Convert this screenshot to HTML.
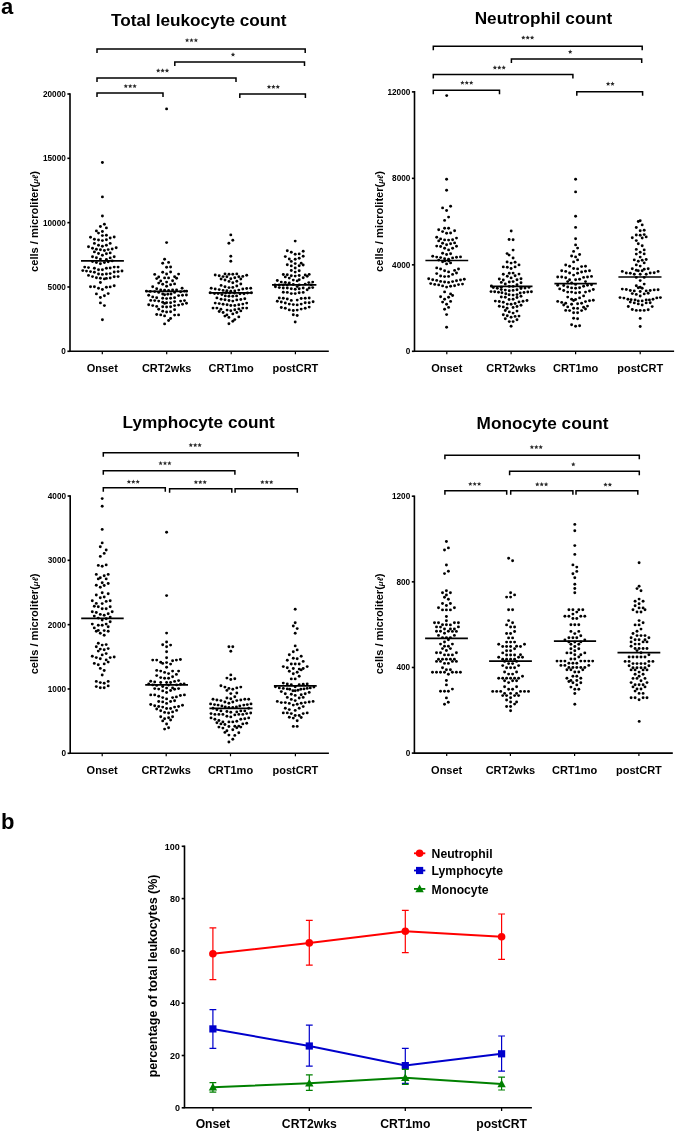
<!DOCTYPE html>
<html><head><meta charset="utf-8"><style>
html,body{margin:0;padding:0;background:#fff;}
svg{display:block;will-change:transform;}
text{font-family:"Liberation Sans", sans-serif;}
</style></head><body>
<svg width="675" height="1132" viewBox="0 0 675 1132">
<rect width="675" height="1132" fill="#fff"/>
<text x="198.80" y="26.30" font-size="17.2" text-anchor="middle" font-weight="bold" >Total leukocyte count</text>
<path d="M70.00,94.00 L70.00,351.30 L328.00,351.30" stroke="#000" stroke-width="1.6" fill="none" stroke-linecap="square"/>
<line x1="67.40" y1="351.30" x2="70.00" y2="351.30" stroke="#000" stroke-width="1.6"/>
<text x="65.80" y="354.20" font-size="8.2" text-anchor="end" font-weight="bold" >0</text>
<line x1="67.40" y1="286.98" x2="70.00" y2="286.98" stroke="#000" stroke-width="1.6"/>
<text x="65.80" y="289.88" font-size="8.2" text-anchor="end" font-weight="bold" >5000</text>
<line x1="67.40" y1="222.65" x2="70.00" y2="222.65" stroke="#000" stroke-width="1.6"/>
<text x="65.80" y="225.55" font-size="8.2" text-anchor="end" font-weight="bold" >10000</text>
<line x1="67.40" y1="158.32" x2="70.00" y2="158.32" stroke="#000" stroke-width="1.6"/>
<text x="65.80" y="161.22" font-size="8.2" text-anchor="end" font-weight="bold" >15000</text>
<line x1="67.40" y1="94.00" x2="70.00" y2="94.00" stroke="#000" stroke-width="1.6"/>
<text x="65.80" y="96.90" font-size="8.2" text-anchor="end" font-weight="bold" >20000</text>
<line x1="102.30" y1="351.30" x2="102.30" y2="354.30" stroke="#000" stroke-width="1.2"/>
<text x="102.30" y="371.90" font-size="11" text-anchor="middle" font-weight="bold" >Onset</text>
<line x1="166.70" y1="351.30" x2="166.70" y2="354.30" stroke="#000" stroke-width="1.2"/>
<text x="166.70" y="371.90" font-size="11" text-anchor="middle" font-weight="bold" >CRT2wks</text>
<line x1="231.20" y1="351.30" x2="231.20" y2="354.30" stroke="#000" stroke-width="1.2"/>
<text x="231.20" y="371.90" font-size="11" text-anchor="middle" font-weight="bold" >CRT1mo</text>
<line x1="295.40" y1="351.30" x2="295.40" y2="354.30" stroke="#000" stroke-width="1.2"/>
<text x="295.40" y="371.90" font-size="11" text-anchor="middle" font-weight="bold" >postCRT</text>
<text transform="translate(38.10,271.90) rotate(-90)" x="0" y="0" font-size="11.1" text-anchor="start" font-weight="bold">cells / microliter(<tspan font-style="italic" font-size="8">μℓ</tspan>)</text>
<path d="M97.00,52.95 L97.00,48.95 L305.20,48.95 L305.20,52.95" stroke="#000" stroke-width="1.5" fill="none" />
<polygon points="187.10,38.00 187.72,39.45 189.29,39.59 188.10,40.62 188.45,42.16 187.10,41.35 185.75,42.16 186.10,40.62 184.91,39.59 186.48,39.45" fill="#2a2a2a"/>
<polygon points="191.50,38.00 192.12,39.45 193.69,39.59 192.50,40.62 192.85,42.16 191.50,41.35 190.15,42.16 190.50,40.62 189.31,39.59 190.88,39.45" fill="#2a2a2a"/>
<polygon points="195.90,38.00 196.52,39.45 198.09,39.59 196.90,40.62 197.25,42.16 195.90,41.35 194.55,42.16 194.90,40.62 193.71,39.59 195.28,39.45" fill="#2a2a2a"/>
<path d="M174.80,65.95 L174.80,61.95 L304.50,61.95 L304.50,65.95" stroke="#000" stroke-width="1.5" fill="none" />
<polygon points="233.00,52.30 233.62,53.75 235.19,53.89 234.00,54.92 234.35,56.46 233.00,55.65 231.65,56.46 232.00,54.92 230.81,53.89 232.38,53.75" fill="#2a2a2a"/>
<path d="M97.00,81.95 L97.00,77.95 L236.00,77.95 L236.00,81.95" stroke="#000" stroke-width="1.5" fill="none" />
<polygon points="158.20,68.30 158.82,69.75 160.39,69.89 159.20,70.92 159.55,72.46 158.20,71.65 156.85,72.46 157.20,70.92 156.01,69.89 157.58,69.75" fill="#2a2a2a"/>
<polygon points="162.60,68.30 163.22,69.75 164.79,69.89 163.60,70.92 163.95,72.46 162.60,71.65 161.25,72.46 161.60,70.92 160.41,69.89 161.98,69.75" fill="#2a2a2a"/>
<polygon points="167.00,68.30 167.62,69.75 169.19,69.89 168.00,70.92 168.35,72.46 167.00,71.65 165.65,72.46 166.00,70.92 164.81,69.89 166.38,69.75" fill="#2a2a2a"/>
<path d="M97.00,97.05 L97.00,93.05 L163.00,93.05 L163.00,97.05" stroke="#000" stroke-width="1.5" fill="none" />
<polygon points="125.80,83.90 126.42,85.35 127.99,85.49 126.80,86.52 127.15,88.06 125.80,87.25 124.45,88.06 124.80,86.52 123.61,85.49 125.18,85.35" fill="#2a2a2a"/>
<polygon points="130.20,83.90 130.82,85.35 132.39,85.49 131.20,86.52 131.55,88.06 130.20,87.25 128.85,88.06 129.20,86.52 128.01,85.49 129.58,85.35" fill="#2a2a2a"/>
<polygon points="134.60,83.90 135.22,85.35 136.79,85.49 135.60,86.52 135.95,88.06 134.60,87.25 133.25,88.06 133.60,86.52 132.41,85.49 133.98,85.35" fill="#2a2a2a"/>
<path d="M239.80,97.95 L239.80,93.95 L305.40,93.95 L305.40,97.95" stroke="#000" stroke-width="1.5" fill="none" />
<polygon points="269.00,84.60 269.62,86.05 271.19,86.19 270.00,87.22 270.35,88.76 269.00,87.95 267.65,88.76 268.00,87.22 266.81,86.19 268.38,86.05" fill="#2a2a2a"/>
<polygon points="273.40,84.60 274.02,86.05 275.59,86.19 274.40,87.22 274.75,88.76 273.40,87.95 272.05,88.76 272.40,87.22 271.21,86.19 272.78,86.05" fill="#2a2a2a"/>
<polygon points="277.80,84.60 278.42,86.05 279.99,86.19 278.80,87.22 279.15,88.76 277.80,87.95 276.45,88.76 276.80,87.22 275.61,86.19 277.18,86.05" fill="#2a2a2a"/>
<line x1="81.00" y1="260.80" x2="123.90" y2="260.80" stroke="#000" stroke-width="1.7"/>
<line x1="145.50" y1="291.30" x2="187.90" y2="291.30" stroke="#000" stroke-width="1.7"/>
<line x1="208.90" y1="292.90" x2="252.40" y2="292.90" stroke="#000" stroke-width="1.7"/>
<line x1="272.00" y1="284.90" x2="316.40" y2="284.90" stroke="#000" stroke-width="1.7"/>
<text x="543.40" y="24.20" font-size="17.2" text-anchor="middle" font-weight="bold" >Neutrophil count</text>
<path d="M414.50,91.90 L414.50,351.30 L673.30,351.30" stroke="#000" stroke-width="1.6" fill="none" stroke-linecap="square"/>
<line x1="411.90" y1="351.30" x2="414.50" y2="351.30" stroke="#000" stroke-width="1.6"/>
<text x="410.30" y="354.20" font-size="8.2" text-anchor="end" font-weight="bold" >0</text>
<line x1="411.90" y1="264.83" x2="414.50" y2="264.83" stroke="#000" stroke-width="1.6"/>
<text x="410.30" y="267.73" font-size="8.2" text-anchor="end" font-weight="bold" >4000</text>
<line x1="411.90" y1="178.36" x2="414.50" y2="178.36" stroke="#000" stroke-width="1.6"/>
<text x="410.30" y="181.26" font-size="8.2" text-anchor="end" font-weight="bold" >8000</text>
<line x1="411.90" y1="91.89" x2="414.50" y2="91.89" stroke="#000" stroke-width="1.6"/>
<text x="410.30" y="94.79" font-size="8.2" text-anchor="end" font-weight="bold" >12000</text>
<line x1="446.80" y1="351.30" x2="446.80" y2="354.30" stroke="#000" stroke-width="1.2"/>
<text x="446.80" y="371.90" font-size="11" text-anchor="middle" font-weight="bold" >Onset</text>
<line x1="511.10" y1="351.30" x2="511.10" y2="354.30" stroke="#000" stroke-width="1.2"/>
<text x="511.10" y="371.90" font-size="11" text-anchor="middle" font-weight="bold" >CRT2wks</text>
<line x1="575.60" y1="351.30" x2="575.60" y2="354.30" stroke="#000" stroke-width="1.2"/>
<text x="575.60" y="371.90" font-size="11" text-anchor="middle" font-weight="bold" >CRT1mo</text>
<line x1="640.20" y1="351.30" x2="640.20" y2="354.30" stroke="#000" stroke-width="1.2"/>
<text x="640.20" y="371.90" font-size="11" text-anchor="middle" font-weight="bold" >postCRT</text>
<text transform="translate(382.60,271.90) rotate(-90)" x="0" y="0" font-size="11.1" text-anchor="start" font-weight="bold">cells / microliter(<tspan font-style="italic" font-size="8">μℓ</tspan>)</text>
<path d="M433.30,50.15 L433.30,46.15 L642.20,46.15 L642.20,50.15" stroke="#000" stroke-width="1.5" fill="none" />
<polygon points="523.30,35.40 523.92,36.85 525.49,36.99 524.30,38.02 524.65,39.56 523.30,38.75 521.95,39.56 522.30,38.02 521.11,36.99 522.68,36.85" fill="#2a2a2a"/>
<polygon points="527.70,35.40 528.32,36.85 529.89,36.99 528.70,38.02 529.05,39.56 527.70,38.75 526.35,39.56 526.70,38.02 525.51,36.99 527.08,36.85" fill="#2a2a2a"/>
<polygon points="532.10,35.40 532.72,36.85 534.29,36.99 533.10,38.02 533.45,39.56 532.10,38.75 530.75,39.56 531.10,38.02 529.91,36.99 531.48,36.85" fill="#2a2a2a"/>
<path d="M511.40,62.95 L511.40,58.95 L641.70,58.95 L641.70,62.95" stroke="#000" stroke-width="1.5" fill="none" />
<polygon points="570.20,49.60 570.82,51.05 572.39,51.19 571.20,52.22 571.55,53.76 570.20,52.95 568.85,53.76 569.20,52.22 568.01,51.19 569.58,51.05" fill="#2a2a2a"/>
<path d="M433.30,78.55 L433.30,74.55 L572.90,74.55 L572.90,78.55" stroke="#000" stroke-width="1.5" fill="none" />
<polygon points="494.90,65.30 495.52,66.75 497.09,66.89 495.90,67.92 496.25,69.46 494.90,68.65 493.55,69.46 493.90,67.92 492.71,66.89 494.28,66.75" fill="#2a2a2a"/>
<polygon points="499.30,65.30 499.92,66.75 501.49,66.89 500.30,67.92 500.65,69.46 499.30,68.65 497.95,69.46 498.30,67.92 497.11,66.89 498.68,66.75" fill="#2a2a2a"/>
<polygon points="503.70,65.30 504.32,66.75 505.89,66.89 504.70,67.92 505.05,69.46 503.70,68.65 502.35,69.46 502.70,67.92 501.51,66.89 503.08,66.75" fill="#2a2a2a"/>
<path d="M433.30,94.35 L433.30,90.35 L499.50,90.35 L499.50,94.35" stroke="#000" stroke-width="1.5" fill="none" />
<polygon points="462.40,80.50 463.02,81.95 464.59,82.09 463.40,83.12 463.75,84.66 462.40,83.85 461.05,84.66 461.40,83.12 460.21,82.09 461.78,81.95" fill="#2a2a2a"/>
<polygon points="466.80,80.50 467.42,81.95 468.99,82.09 467.80,83.12 468.15,84.66 466.80,83.85 465.45,84.66 465.80,83.12 464.61,82.09 466.18,81.95" fill="#2a2a2a"/>
<polygon points="471.20,80.50 471.82,81.95 473.39,82.09 472.20,83.12 472.55,84.66 471.20,83.85 469.85,84.66 470.20,83.12 469.01,82.09 470.58,81.95" fill="#2a2a2a"/>
<path d="M576.80,95.85 L576.80,91.85 L642.60,91.85 L642.60,95.85" stroke="#000" stroke-width="1.5" fill="none" />
<polygon points="608.10,81.60 608.72,83.05 610.29,83.19 609.10,84.22 609.45,85.76 608.10,84.95 606.75,85.76 607.10,84.22 605.91,83.19 607.48,83.05" fill="#2a2a2a"/>
<polygon points="612.50,81.60 613.12,83.05 614.69,83.19 613.50,84.22 613.85,85.76 612.50,84.95 611.15,85.76 611.50,84.22 610.31,83.19 611.88,83.05" fill="#2a2a2a"/>
<line x1="425.40" y1="260.50" x2="468.20" y2="260.50" stroke="#000" stroke-width="1.7"/>
<line x1="490.10" y1="286.30" x2="532.50" y2="286.30" stroke="#000" stroke-width="1.7"/>
<line x1="554.40" y1="283.60" x2="596.80" y2="283.60" stroke="#000" stroke-width="1.7"/>
<line x1="618.40" y1="277.00" x2="661.50" y2="277.00" stroke="#000" stroke-width="1.7"/>
<text x="198.60" y="427.90" font-size="17.2" text-anchor="middle" font-weight="bold" >Lymphocyte count</text>
<path d="M70.20,496.00 L70.20,753.30 L328.10,753.30" stroke="#000" stroke-width="1.6" fill="none" stroke-linecap="square"/>
<line x1="67.60" y1="753.30" x2="70.20" y2="753.30" stroke="#000" stroke-width="1.6"/>
<text x="66.00" y="756.20" font-size="8.2" text-anchor="end" font-weight="bold" >0</text>
<line x1="67.60" y1="688.97" x2="70.20" y2="688.97" stroke="#000" stroke-width="1.6"/>
<text x="66.00" y="691.87" font-size="8.2" text-anchor="end" font-weight="bold" >1000</text>
<line x1="67.60" y1="624.65" x2="70.20" y2="624.65" stroke="#000" stroke-width="1.6"/>
<text x="66.00" y="627.55" font-size="8.2" text-anchor="end" font-weight="bold" >2000</text>
<line x1="67.60" y1="560.32" x2="70.20" y2="560.32" stroke="#000" stroke-width="1.6"/>
<text x="66.00" y="563.22" font-size="8.2" text-anchor="end" font-weight="bold" >3000</text>
<line x1="67.60" y1="496.00" x2="70.20" y2="496.00" stroke="#000" stroke-width="1.6"/>
<text x="66.00" y="498.90" font-size="8.2" text-anchor="end" font-weight="bold" >4000</text>
<line x1="102.20" y1="753.30" x2="102.20" y2="756.30" stroke="#000" stroke-width="1.2"/>
<text x="102.20" y="773.90" font-size="11" text-anchor="middle" font-weight="bold" >Onset</text>
<line x1="166.20" y1="753.30" x2="166.20" y2="756.30" stroke="#000" stroke-width="1.2"/>
<text x="166.20" y="773.90" font-size="11" text-anchor="middle" font-weight="bold" >CRT2wks</text>
<line x1="230.50" y1="753.30" x2="230.50" y2="756.30" stroke="#000" stroke-width="1.2"/>
<text x="230.50" y="773.90" font-size="11" text-anchor="middle" font-weight="bold" >CRT1mo</text>
<line x1="295.40" y1="753.30" x2="295.40" y2="756.30" stroke="#000" stroke-width="1.2"/>
<text x="295.40" y="773.90" font-size="11" text-anchor="middle" font-weight="bold" >postCRT</text>
<text transform="translate(38.10,674.30) rotate(-90)" x="0" y="0" font-size="11.1" text-anchor="start" font-weight="bold">cells / microliter(<tspan font-style="italic" font-size="8">μℓ</tspan>)</text>
<path d="M103.30,456.75 L103.30,452.75 L298.20,452.75 L298.20,456.75" stroke="#000" stroke-width="1.5" fill="none" />
<polygon points="190.80,442.80 191.42,444.25 192.99,444.39 191.80,445.42 192.15,446.96 190.80,446.15 189.45,446.96 189.80,445.42 188.61,444.39 190.18,444.25" fill="#2a2a2a"/>
<polygon points="195.20,442.80 195.82,444.25 197.39,444.39 196.20,445.42 196.55,446.96 195.20,446.15 193.85,446.96 194.20,445.42 193.01,444.39 194.58,444.25" fill="#2a2a2a"/>
<polygon points="199.60,442.80 200.22,444.25 201.79,444.39 200.60,445.42 200.95,446.96 199.60,446.15 198.25,446.96 198.60,445.42 197.41,444.39 198.98,444.25" fill="#2a2a2a"/>
<path d="M103.30,474.65 L103.30,470.65 L234.90,470.65 L234.90,474.65" stroke="#000" stroke-width="1.5" fill="none" />
<polygon points="160.60,461.00 161.22,462.45 162.79,462.59 161.60,463.62 161.95,465.16 160.60,464.35 159.25,465.16 159.60,463.62 158.41,462.59 159.98,462.45" fill="#2a2a2a"/>
<polygon points="165.00,461.00 165.62,462.45 167.19,462.59 166.00,463.62 166.35,465.16 165.00,464.35 163.65,465.16 164.00,463.62 162.81,462.59 164.38,462.45" fill="#2a2a2a"/>
<polygon points="169.40,461.00 170.02,462.45 171.59,462.59 170.40,463.62 170.75,465.16 169.40,464.35 168.05,465.16 168.40,463.62 167.21,462.59 168.78,462.45" fill="#2a2a2a"/>
<path d="M103.30,491.85 L103.30,487.85 L165.30,487.85 L165.30,491.85" stroke="#000" stroke-width="1.5" fill="none" />
<polygon points="128.90,479.50 129.52,480.95 131.09,481.09 129.90,482.12 130.25,483.66 128.90,482.85 127.55,483.66 127.90,482.12 126.71,481.09 128.28,480.95" fill="#2a2a2a"/>
<polygon points="133.30,479.50 133.92,480.95 135.49,481.09 134.30,482.12 134.65,483.66 133.30,482.85 131.95,483.66 132.30,482.12 131.11,481.09 132.68,480.95" fill="#2a2a2a"/>
<polygon points="137.70,479.50 138.32,480.95 139.89,481.09 138.70,482.12 139.05,483.66 137.70,482.85 136.35,483.66 136.70,482.12 135.51,481.09 137.08,480.95" fill="#2a2a2a"/>
<path d="M169.60,492.65 L169.60,488.65 L231.80,488.65 L231.80,492.65" stroke="#000" stroke-width="1.5" fill="none" />
<polygon points="195.90,479.90 196.52,481.35 198.09,481.49 196.90,482.52 197.25,484.06 195.90,483.25 194.55,484.06 194.90,482.52 193.71,481.49 195.28,481.35" fill="#2a2a2a"/>
<polygon points="200.30,479.90 200.92,481.35 202.49,481.49 201.30,482.52 201.65,484.06 200.30,483.25 198.95,484.06 199.30,482.52 198.11,481.49 199.68,481.35" fill="#2a2a2a"/>
<polygon points="204.70,479.90 205.32,481.35 206.89,481.49 205.70,482.52 206.05,484.06 204.70,483.25 203.35,484.06 203.70,482.52 202.51,481.49 204.08,481.35" fill="#2a2a2a"/>
<path d="M235.10,492.65 L235.10,488.65 L297.30,488.65 L297.30,492.65" stroke="#000" stroke-width="1.5" fill="none" />
<polygon points="262.40,479.90 263.02,481.35 264.59,481.49 263.40,482.52 263.75,484.06 262.40,483.25 261.05,484.06 261.40,482.52 260.21,481.49 261.78,481.35" fill="#2a2a2a"/>
<polygon points="266.80,479.90 267.42,481.35 268.99,481.49 267.80,482.52 268.15,484.06 266.80,483.25 265.45,484.06 265.80,482.52 264.61,481.49 266.18,481.35" fill="#2a2a2a"/>
<polygon points="271.20,479.90 271.82,481.35 273.39,481.49 272.20,482.52 272.55,484.06 271.20,483.25 269.85,484.06 270.20,482.52 269.01,481.49 270.58,481.35" fill="#2a2a2a"/>
<line x1="81.20" y1="618.30" x2="123.70" y2="618.30" stroke="#000" stroke-width="1.7"/>
<line x1="145.20" y1="684.90" x2="188.00" y2="684.90" stroke="#000" stroke-width="1.7"/>
<line x1="209.40" y1="708.30" x2="252.50" y2="708.30" stroke="#000" stroke-width="1.7"/>
<line x1="273.90" y1="685.90" x2="316.70" y2="685.90" stroke="#000" stroke-width="1.7"/>
<text x="542.50" y="428.70" font-size="17.2" text-anchor="middle" font-weight="bold" >Monocyte count</text>
<path d="M414.40,496.20 L414.40,753.10 L672.00,753.10" stroke="#000" stroke-width="1.6" fill="none" stroke-linecap="square"/>
<line x1="411.80" y1="753.10" x2="414.40" y2="753.10" stroke="#000" stroke-width="1.6"/>
<text x="410.20" y="756.00" font-size="8.2" text-anchor="end" font-weight="bold" >0</text>
<line x1="411.80" y1="667.47" x2="414.40" y2="667.47" stroke="#000" stroke-width="1.6"/>
<text x="410.20" y="670.37" font-size="8.2" text-anchor="end" font-weight="bold" >400</text>
<line x1="411.80" y1="581.84" x2="414.40" y2="581.84" stroke="#000" stroke-width="1.6"/>
<text x="410.20" y="584.74" font-size="8.2" text-anchor="end" font-weight="bold" >800</text>
<line x1="411.80" y1="496.21" x2="414.40" y2="496.21" stroke="#000" stroke-width="1.6"/>
<text x="410.20" y="499.11" font-size="8.2" text-anchor="end" font-weight="bold" >1200</text>
<line x1="446.70" y1="753.10" x2="446.70" y2="756.10" stroke="#000" stroke-width="1.2"/>
<text x="446.70" y="773.70" font-size="11" text-anchor="middle" font-weight="bold" >Onset</text>
<line x1="510.40" y1="753.10" x2="510.40" y2="756.10" stroke="#000" stroke-width="1.2"/>
<text x="510.40" y="773.70" font-size="11" text-anchor="middle" font-weight="bold" >CRT2wks</text>
<line x1="574.60" y1="753.10" x2="574.60" y2="756.10" stroke="#000" stroke-width="1.2"/>
<text x="574.60" y="773.70" font-size="11" text-anchor="middle" font-weight="bold" >CRT1mo</text>
<line x1="638.90" y1="753.10" x2="638.90" y2="756.10" stroke="#000" stroke-width="1.2"/>
<text x="638.90" y="773.70" font-size="11" text-anchor="middle" font-weight="bold" >postCRT</text>
<text transform="translate(382.60,674.30) rotate(-90)" x="0" y="0" font-size="11.1" text-anchor="start" font-weight="bold">cells / microliter(<tspan font-style="italic" font-size="8">μℓ</tspan>)</text>
<path d="M444.90,459.15 L444.90,455.15 L639.30,455.15 L639.30,459.15" stroke="#000" stroke-width="1.5" fill="none" />
<polygon points="531.90,444.80 532.52,446.25 534.09,446.39 532.90,447.42 533.25,448.96 531.90,448.15 530.55,448.96 530.90,447.42 529.71,446.39 531.28,446.25" fill="#2a2a2a"/>
<polygon points="536.30,444.80 536.92,446.25 538.49,446.39 537.30,447.42 537.65,448.96 536.30,448.15 534.95,448.96 535.30,447.42 534.11,446.39 535.68,446.25" fill="#2a2a2a"/>
<polygon points="540.70,444.80 541.32,446.25 542.89,446.39 541.70,447.42 542.05,448.96 540.70,448.15 539.35,448.96 539.70,447.42 538.51,446.39 540.08,446.25" fill="#2a2a2a"/>
<path d="M509.60,475.35 L509.60,471.35 L639.30,471.35 L639.30,475.35" stroke="#000" stroke-width="1.5" fill="none" />
<polygon points="573.30,462.10 573.92,463.55 575.49,463.69 574.30,464.72 574.65,466.26 573.30,465.45 571.95,466.26 572.30,464.72 571.11,463.69 572.68,463.55" fill="#2a2a2a"/>
<path d="M444.90,494.65 L444.90,490.65 L506.70,490.65 L506.70,494.65" stroke="#000" stroke-width="1.5" fill="none" />
<polygon points="470.30,481.70 470.92,483.15 472.49,483.29 471.30,484.32 471.65,485.86 470.30,485.05 468.95,485.86 469.30,484.32 468.11,483.29 469.68,483.15" fill="#2a2a2a"/>
<polygon points="474.70,481.70 475.32,483.15 476.89,483.29 475.70,484.32 476.05,485.86 474.70,485.05 473.35,485.86 473.70,484.32 472.51,483.29 474.08,483.15" fill="#2a2a2a"/>
<polygon points="479.10,481.70 479.72,483.15 481.29,483.29 480.10,484.32 480.45,485.86 479.10,485.05 477.75,485.86 478.10,484.32 476.91,483.29 478.48,483.15" fill="#2a2a2a"/>
<path d="M510.70,494.65 L510.70,490.65 L572.90,490.65 L572.90,494.65" stroke="#000" stroke-width="1.5" fill="none" />
<polygon points="537.30,482.10 537.92,483.55 539.49,483.69 538.30,484.72 538.65,486.26 537.30,485.45 535.95,486.26 536.30,484.72 535.11,483.69 536.68,483.55" fill="#2a2a2a"/>
<polygon points="541.70,482.10 542.32,483.55 543.89,483.69 542.70,484.72 543.05,486.26 541.70,485.45 540.35,486.26 540.70,484.72 539.51,483.69 541.08,483.55" fill="#2a2a2a"/>
<polygon points="546.10,482.10 546.72,483.55 548.29,483.69 547.10,484.72 547.45,486.26 546.10,485.45 544.75,486.26 545.10,484.72 543.91,483.69 545.48,483.55" fill="#2a2a2a"/>
<path d="M576.00,494.65 L576.00,490.65 L637.80,490.65 L637.80,494.65" stroke="#000" stroke-width="1.5" fill="none" />
<polygon points="605.50,482.40 606.12,483.85 607.69,483.99 606.50,485.02 606.85,486.56 605.50,485.75 604.15,486.56 604.50,485.02 603.31,483.99 604.88,483.85" fill="#2a2a2a"/>
<polygon points="609.90,482.40 610.52,483.85 612.09,483.99 610.90,485.02 611.25,486.56 609.90,485.75 608.55,486.56 608.90,485.02 607.71,483.99 609.28,483.85" fill="#2a2a2a"/>
<line x1="425.10" y1="638.40" x2="467.90" y2="638.40" stroke="#000" stroke-width="1.7"/>
<line x1="489.10" y1="661.20" x2="531.90" y2="661.20" stroke="#000" stroke-width="1.7"/>
<line x1="553.90" y1="641.10" x2="596.10" y2="641.10" stroke="#000" stroke-width="1.7"/>
<line x1="617.50" y1="652.60" x2="660.30" y2="652.60" stroke="#000" stroke-width="1.7"/>
<text x="1.00" y="13.70" font-size="22" text-anchor="start" font-weight="bold" >a</text>
<text x="1.00" y="829.20" font-size="22" text-anchor="start" font-weight="bold" >b</text>
<g fill="#000"><circle cx="230.8" cy="234.9" r="1.45"/><circle cx="232.8" cy="240.3" r="1.45"/><circle cx="228.9" cy="243.2" r="1.45"/><circle cx="230.8" cy="256.2" r="1.45"/><circle cx="230.8" cy="261.3" r="1.45"/><circle cx="215.2" cy="275.0" r="1.45"/><circle cx="219.2" cy="275.7" r="1.45"/><circle cx="223.1" cy="276.6" r="1.45"/><circle cx="225.0" cy="273.9" r="1.45"/><circle cx="226.9" cy="276.8" r="1.45"/><circle cx="229.0" cy="274.3" r="1.45"/><circle cx="232.8" cy="274.3" r="1.45"/><circle cx="236.8" cy="273.9" r="1.45"/><circle cx="238.8" cy="276.8" r="1.45"/><circle cx="242.8" cy="276.4" r="1.45"/><circle cx="246.7" cy="275.3" r="1.45"/><circle cx="221.1" cy="279.0" r="1.45"/><circle cx="225.0" cy="280.0" r="1.45"/><circle cx="230.8" cy="278.8" r="1.45"/><circle cx="234.8" cy="277.8" r="1.45"/><circle cx="240.8" cy="279.0" r="1.45"/><circle cx="229.0" cy="281.4" r="1.45"/><circle cx="232.8" cy="282.8" r="1.45"/><circle cx="236.8" cy="281.2" r="1.45"/><circle cx="221.1" cy="285.4" r="1.45"/><circle cx="225.0" cy="286.8" r="1.45"/><circle cx="229.0" cy="287.6" r="1.45"/><circle cx="232.8" cy="287.4" r="1.45"/><circle cx="236.8" cy="286.0" r="1.45"/><circle cx="240.8" cy="284.0" r="1.45"/><circle cx="211.2" cy="288.2" r="1.45"/><circle cx="215.2" cy="289.0" r="1.45"/><circle cx="219.2" cy="289.6" r="1.45"/><circle cx="223.1" cy="290.4" r="1.45"/><circle cx="226.9" cy="290.8" r="1.45"/><circle cx="230.8" cy="291.2" r="1.45"/><circle cx="234.8" cy="290.9" r="1.45"/><circle cx="238.8" cy="290.1" r="1.45"/><circle cx="242.8" cy="289.0" r="1.45"/><circle cx="246.7" cy="288.5" r="1.45"/><circle cx="250.7" cy="288.2" r="1.45"/><circle cx="210.2" cy="292.7" r="1.45"/><circle cx="214.5" cy="293.5" r="1.45"/><circle cx="218.1" cy="293.5" r="1.45"/><circle cx="221.9" cy="294.6" r="1.45"/><circle cx="225.8" cy="292.7" r="1.45"/><circle cx="229.6" cy="293.0" r="1.45"/><circle cx="234.4" cy="293.1" r="1.45"/><circle cx="240.0" cy="293.8" r="1.45"/><circle cx="244.0" cy="293.8" r="1.45"/><circle cx="247.5" cy="293.0" r="1.45"/><circle cx="251.4" cy="292.7" r="1.45"/><circle cx="225.3" cy="295.9" r="1.45"/><circle cx="228.9" cy="296.3" r="1.45"/><circle cx="232.8" cy="296.2" r="1.45"/><circle cx="236.6" cy="295.9" r="1.45"/><circle cx="216.9" cy="297.9" r="1.45"/><circle cx="221.1" cy="299.3" r="1.45"/><circle cx="225.0" cy="299.7" r="1.45"/><circle cx="229.0" cy="300.5" r="1.45"/><circle cx="232.8" cy="301.1" r="1.45"/><circle cx="236.8" cy="299.9" r="1.45"/><circle cx="240.8" cy="299.5" r="1.45"/><circle cx="244.8" cy="298.7" r="1.45"/><circle cx="215.2" cy="303.1" r="1.45"/><circle cx="219.2" cy="303.6" r="1.45"/><circle cx="223.1" cy="304.3" r="1.45"/><circle cx="227.1" cy="304.7" r="1.45"/><circle cx="230.8" cy="305.5" r="1.45"/><circle cx="234.8" cy="305.5" r="1.45"/><circle cx="238.8" cy="304.7" r="1.45"/><circle cx="242.8" cy="304.1" r="1.45"/><circle cx="246.7" cy="303.1" r="1.45"/><circle cx="213.0" cy="308.1" r="1.45"/><circle cx="216.9" cy="308.1" r="1.45"/><circle cx="220.9" cy="309.2" r="1.45"/><circle cx="227.1" cy="310.1" r="1.45"/><circle cx="230.8" cy="310.7" r="1.45"/><circle cx="234.8" cy="309.7" r="1.45"/><circle cx="238.8" cy="308.9" r="1.45"/><circle cx="242.8" cy="308.1" r="1.45"/><circle cx="246.7" cy="308.1" r="1.45"/><circle cx="219.2" cy="311.5" r="1.45"/><circle cx="223.1" cy="312.5" r="1.45"/><circle cx="232.8" cy="313.9" r="1.45"/><circle cx="236.8" cy="312.5" r="1.45"/><circle cx="240.8" cy="310.9" r="1.45"/><circle cx="224.9" cy="316.1" r="1.45"/><circle cx="226.9" cy="314.9" r="1.45"/><circle cx="228.9" cy="317.4" r="1.45"/><circle cx="238.8" cy="316.9" r="1.45"/><circle cx="234.8" cy="319.6" r="1.45"/><circle cx="232.8" cy="321.2" r="1.45"/><circle cx="228.9" cy="323.8" r="1.45"/></g>
<g fill="#000"><circle cx="166.6" cy="108.9" r="1.45"/><circle cx="166.6" cy="242.6" r="1.45"/><circle cx="164.6" cy="259.2" r="1.45"/><circle cx="162.7" cy="263.2" r="1.45"/><circle cx="168.6" cy="262.4" r="1.45"/><circle cx="166.6" cy="267.2" r="1.45"/><circle cx="170.6" cy="267.0" r="1.45"/><circle cx="162.7" cy="272.2" r="1.45"/><circle cx="166.6" cy="274.0" r="1.45"/><circle cx="170.6" cy="272.0" r="1.45"/><circle cx="154.7" cy="274.4" r="1.45"/><circle cx="178.6" cy="274.1" r="1.45"/><circle cx="158.7" cy="277.0" r="1.45"/><circle cx="156.7" cy="278.6" r="1.45"/><circle cx="164.6" cy="277.9" r="1.45"/><circle cx="168.6" cy="277.9" r="1.45"/><circle cx="174.6" cy="276.7" r="1.45"/><circle cx="176.6" cy="278.3" r="1.45"/><circle cx="160.7" cy="281.0" r="1.45"/><circle cx="172.6" cy="280.7" r="1.45"/><circle cx="158.7" cy="283.1" r="1.45"/><circle cx="162.7" cy="284.3" r="1.45"/><circle cx="166.6" cy="282.1" r="1.45"/><circle cx="170.6" cy="284.7" r="1.45"/><circle cx="174.6" cy="283.9" r="1.45"/><circle cx="152.7" cy="286.7" r="1.45"/><circle cx="166.6" cy="286.3" r="1.45"/><circle cx="156.7" cy="288.7" r="1.45"/><circle cx="182.1" cy="288.3" r="1.45"/><circle cx="146.4" cy="291.1" r="1.45"/><circle cx="150.3" cy="291.4" r="1.45"/><circle cx="154.7" cy="291.6" r="1.45"/><circle cx="160.7" cy="289.9" r="1.45"/><circle cx="164.6" cy="290.3" r="1.45"/><circle cx="168.6" cy="290.5" r="1.45"/><circle cx="172.6" cy="289.9" r="1.45"/><circle cx="176.6" cy="289.9" r="1.45"/><circle cx="184.5" cy="291.1" r="1.45"/><circle cx="186.5" cy="291.1" r="1.45"/><circle cx="158.7" cy="292.4" r="1.45"/><circle cx="174.6" cy="292.4" r="1.45"/><circle cx="180.6" cy="291.8" r="1.45"/><circle cx="148.7" cy="295.3" r="1.45"/><circle cx="152.7" cy="296.9" r="1.45"/><circle cx="156.7" cy="297.8" r="1.45"/><circle cx="162.7" cy="294.0" r="1.45"/><circle cx="164.6" cy="294.8" r="1.45"/><circle cx="167.8" cy="294.2" r="1.45"/><circle cx="171.0" cy="294.0" r="1.45"/><circle cx="178.6" cy="295.6" r="1.45"/><circle cx="182.5" cy="295.3" r="1.45"/><circle cx="186.4" cy="295.0" r="1.45"/><circle cx="162.7" cy="298.2" r="1.45"/><circle cx="166.6" cy="298.6" r="1.45"/><circle cx="170.6" cy="298.2" r="1.45"/><circle cx="174.6" cy="297.8" r="1.45"/><circle cx="150.7" cy="300.4" r="1.45"/><circle cx="154.7" cy="300.6" r="1.45"/><circle cx="158.7" cy="301.1" r="1.45"/><circle cx="162.7" cy="302.2" r="1.45"/><circle cx="164.6" cy="303.4" r="1.45"/><circle cx="166.6" cy="302.7" r="1.45"/><circle cx="170.6" cy="302.7" r="1.45"/><circle cx="174.6" cy="301.6" r="1.45"/><circle cx="180.6" cy="301.1" r="1.45"/><circle cx="184.5" cy="300.6" r="1.45"/><circle cx="182.5" cy="304.3" r="1.45"/><circle cx="186.5" cy="303.2" r="1.45"/><circle cx="178.6" cy="305.1" r="1.45"/><circle cx="148.7" cy="304.8" r="1.45"/><circle cx="152.7" cy="305.6" r="1.45"/><circle cx="156.7" cy="306.4" r="1.45"/><circle cx="162.7" cy="306.8" r="1.45"/><circle cx="166.6" cy="307.0" r="1.45"/><circle cx="170.6" cy="306.7" r="1.45"/><circle cx="174.6" cy="305.6" r="1.45"/><circle cx="158.7" cy="309.3" r="1.45"/><circle cx="162.7" cy="311.2" r="1.45"/><circle cx="166.6" cy="312.0" r="1.45"/><circle cx="170.6" cy="311.7" r="1.45"/><circle cx="174.6" cy="309.7" r="1.45"/><circle cx="156.7" cy="314.5" r="1.45"/><circle cx="160.7" cy="314.9" r="1.45"/><circle cx="164.6" cy="315.9" r="1.45"/><circle cx="174.6" cy="315.1" r="1.45"/><circle cx="178.6" cy="314.9" r="1.45"/><circle cx="170.6" cy="318.5" r="1.45"/><circle cx="168.6" cy="320.5" r="1.45"/><circle cx="164.6" cy="323.9" r="1.45"/></g>
<g fill="#000"><circle cx="102.4" cy="162.5" r="1.45"/><circle cx="102.4" cy="196.9" r="1.45"/><circle cx="102.4" cy="216.0" r="1.45"/><circle cx="104.4" cy="224.3" r="1.45"/><circle cx="100.4" cy="226.5" r="1.45"/><circle cx="106.4" cy="227.9" r="1.45"/><circle cx="96.4" cy="230.9" r="1.45"/><circle cx="102.4" cy="231.5" r="1.45"/><circle cx="98.5" cy="233.1" r="1.45"/><circle cx="102.4" cy="235.6" r="1.45"/><circle cx="106.4" cy="235.3" r="1.45"/><circle cx="90.5" cy="237.3" r="1.45"/><circle cx="114.2" cy="237.0" r="1.45"/><circle cx="110.2" cy="238.0" r="1.45"/><circle cx="94.4" cy="239.3" r="1.45"/><circle cx="98.5" cy="240.0" r="1.45"/><circle cx="102.4" cy="240.6" r="1.45"/><circle cx="106.4" cy="239.7" r="1.45"/><circle cx="94.4" cy="243.4" r="1.45"/><circle cx="110.2" cy="243.4" r="1.45"/><circle cx="98.5" cy="245.2" r="1.45"/><circle cx="102.4" cy="246.3" r="1.45"/><circle cx="106.4" cy="245.2" r="1.45"/><circle cx="88.5" cy="246.8" r="1.45"/><circle cx="92.5" cy="248.2" r="1.45"/><circle cx="116.2" cy="247.8" r="1.45"/><circle cx="96.4" cy="249.2" r="1.45"/><circle cx="100.4" cy="249.8" r="1.45"/><circle cx="104.4" cy="250.5" r="1.45"/><circle cx="108.2" cy="249.6" r="1.45"/><circle cx="112.2" cy="249.0" r="1.45"/><circle cx="94.4" cy="251.9" r="1.45"/><circle cx="98.5" cy="253.5" r="1.45"/><circle cx="102.4" cy="255.3" r="1.45"/><circle cx="106.4" cy="253.7" r="1.45"/><circle cx="110.2" cy="252.9" r="1.45"/><circle cx="92.5" cy="256.7" r="1.45"/><circle cx="96.4" cy="257.7" r="1.45"/><circle cx="114.2" cy="256.7" r="1.45"/><circle cx="110.2" cy="257.9" r="1.45"/><circle cx="100.4" cy="259.1" r="1.45"/><circle cx="106.4" cy="259.5" r="1.45"/><circle cx="92.5" cy="261.5" r="1.45"/><circle cx="96.4" cy="262.6" r="1.45"/><circle cx="100.4" cy="263.8" r="1.45"/><circle cx="104.4" cy="262.6" r="1.45"/><circle cx="108.2" cy="261.7" r="1.45"/><circle cx="112.2" cy="260.9" r="1.45"/><circle cx="84.7" cy="267.1" r="1.45"/><circle cx="88.5" cy="267.6" r="1.45"/><circle cx="94.4" cy="268.3" r="1.45"/><circle cx="98.5" cy="269.8" r="1.45"/><circle cx="102.4" cy="269.8" r="1.45"/><circle cx="106.4" cy="268.3" r="1.45"/><circle cx="110.2" cy="268.0" r="1.45"/><circle cx="114.2" cy="267.1" r="1.45"/><circle cx="118.1" cy="267.1" r="1.45"/><circle cx="82.8" cy="270.6" r="1.45"/><circle cx="86.5" cy="271.1" r="1.45"/><circle cx="90.5" cy="271.6" r="1.45"/><circle cx="94.4" cy="272.2" r="1.45"/><circle cx="98.5" cy="274.0" r="1.45"/><circle cx="102.4" cy="274.4" r="1.45"/><circle cx="106.4" cy="274.0" r="1.45"/><circle cx="110.2" cy="273.6" r="1.45"/><circle cx="114.2" cy="272.0" r="1.45"/><circle cx="118.1" cy="271.6" r="1.45"/><circle cx="122.0" cy="271.0" r="1.45"/><circle cx="88.5" cy="275.4" r="1.45"/><circle cx="92.5" cy="276.6" r="1.45"/><circle cx="96.4" cy="277.8" r="1.45"/><circle cx="100.4" cy="278.2" r="1.45"/><circle cx="104.4" cy="278.9" r="1.45"/><circle cx="106.4" cy="278.4" r="1.45"/><circle cx="110.2" cy="278.0" r="1.45"/><circle cx="114.2" cy="276.8" r="1.45"/><circle cx="118.1" cy="276.6" r="1.45"/><circle cx="100.4" cy="282.5" r="1.45"/><circle cx="90.5" cy="286.7" r="1.45"/><circle cx="94.4" cy="286.7" r="1.45"/><circle cx="98.5" cy="288.3" r="1.45"/><circle cx="102.4" cy="289.5" r="1.45"/><circle cx="106.4" cy="287.3" r="1.45"/><circle cx="110.2" cy="286.9" r="1.45"/><circle cx="114.2" cy="285.8" r="1.45"/><circle cx="96.4" cy="293.9" r="1.45"/><circle cx="108.2" cy="293.6" r="1.45"/><circle cx="104.4" cy="295.7" r="1.45"/><circle cx="100.4" cy="297.5" r="1.45"/><circle cx="100.4" cy="302.9" r="1.45"/><circle cx="104.4" cy="305.6" r="1.45"/><circle cx="102.4" cy="319.8" r="1.45"/></g>
<g fill="#000"><circle cx="295.2" cy="241.1" r="1.45"/><circle cx="287.3" cy="250.7" r="1.45"/><circle cx="291.3" cy="252.3" r="1.45"/><circle cx="295.2" cy="254.2" r="1.45"/><circle cx="299.2" cy="253.9" r="1.45"/><circle cx="303.2" cy="251.3" r="1.45"/><circle cx="285.3" cy="256.6" r="1.45"/><circle cx="289.3" cy="259.0" r="1.45"/><circle cx="295.2" cy="259.3" r="1.45"/><circle cx="299.2" cy="258.2" r="1.45"/><circle cx="303.2" cy="256.2" r="1.45"/><circle cx="291.3" cy="261.4" r="1.45"/><circle cx="287.3" cy="264.8" r="1.45"/><circle cx="291.3" cy="265.9" r="1.45"/><circle cx="295.2" cy="263.6" r="1.45"/><circle cx="299.2" cy="265.8" r="1.45"/><circle cx="301.2" cy="263.2" r="1.45"/><circle cx="303.2" cy="265.0" r="1.45"/><circle cx="295.2" cy="268.0" r="1.45"/><circle cx="291.3" cy="270.5" r="1.45"/><circle cx="295.2" cy="272.1" r="1.45"/><circle cx="299.2" cy="270.7" r="1.45"/><circle cx="283.3" cy="274.5" r="1.45"/><circle cx="287.3" cy="274.7" r="1.45"/><circle cx="285.3" cy="276.9" r="1.45"/><circle cx="291.3" cy="275.7" r="1.45"/><circle cx="295.2" cy="276.1" r="1.45"/><circle cx="299.2" cy="275.5" r="1.45"/><circle cx="303.2" cy="277.7" r="1.45"/><circle cx="305.2" cy="274.9" r="1.45"/><circle cx="307.2" cy="276.3" r="1.45"/><circle cx="309.2" cy="274.4" r="1.45"/><circle cx="277.3" cy="280.5" r="1.45"/><circle cx="281.3" cy="282.1" r="1.45"/><circle cx="289.3" cy="278.1" r="1.45"/><circle cx="293.3" cy="280.1" r="1.45"/><circle cx="297.2" cy="280.9" r="1.45"/><circle cx="299.2" cy="279.7" r="1.45"/><circle cx="285.3" cy="282.5" r="1.45"/><circle cx="289.3" cy="282.9" r="1.45"/><circle cx="308.8" cy="282.6" r="1.45"/><circle cx="312.7" cy="282.1" r="1.45"/><circle cx="275.0" cy="284.9" r="1.45"/><circle cx="279.3" cy="284.9" r="1.45"/><circle cx="283.3" cy="284.9" r="1.45"/><circle cx="287.3" cy="284.9" r="1.45"/><circle cx="293.3" cy="284.5" r="1.45"/><circle cx="299.2" cy="284.9" r="1.45"/><circle cx="305.2" cy="284.1" r="1.45"/><circle cx="311.1" cy="284.9" r="1.45"/><circle cx="275.4" cy="286.8" r="1.45"/><circle cx="279.3" cy="287.6" r="1.45"/><circle cx="283.3" cy="288.0" r="1.45"/><circle cx="287.3" cy="288.0" r="1.45"/><circle cx="291.3" cy="288.7" r="1.45"/><circle cx="295.2" cy="289.2" r="1.45"/><circle cx="299.2" cy="288.7" r="1.45"/><circle cx="303.2" cy="288.0" r="1.45"/><circle cx="307.2" cy="289.8" r="1.45"/><circle cx="309.2" cy="287.9" r="1.45"/><circle cx="312.7" cy="287.6" r="1.45"/><circle cx="297.2" cy="286.6" r="1.45"/><circle cx="283.3" cy="292.2" r="1.45"/><circle cx="287.3" cy="292.4" r="1.45"/><circle cx="291.3" cy="293.6" r="1.45"/><circle cx="295.2" cy="293.6" r="1.45"/><circle cx="299.2" cy="292.7" r="1.45"/><circle cx="303.2" cy="292.4" r="1.45"/><circle cx="279.3" cy="298.0" r="1.45"/><circle cx="283.3" cy="298.2" r="1.45"/><circle cx="287.3" cy="299.0" r="1.45"/><circle cx="291.3" cy="300.4" r="1.45"/><circle cx="297.2" cy="300.1" r="1.45"/><circle cx="301.2" cy="298.5" r="1.45"/><circle cx="305.2" cy="298.2" r="1.45"/><circle cx="309.2" cy="298.0" r="1.45"/><circle cx="277.3" cy="301.2" r="1.45"/><circle cx="281.3" cy="302.0" r="1.45"/><circle cx="285.3" cy="303.0" r="1.45"/><circle cx="289.3" cy="304.1" r="1.45"/><circle cx="293.3" cy="304.6" r="1.45"/><circle cx="297.2" cy="304.9" r="1.45"/><circle cx="301.2" cy="304.1" r="1.45"/><circle cx="305.2" cy="302.7" r="1.45"/><circle cx="309.2" cy="302.7" r="1.45"/><circle cx="313.1" cy="301.7" r="1.45"/><circle cx="281.3" cy="307.5" r="1.45"/><circle cx="285.3" cy="308.3" r="1.45"/><circle cx="289.3" cy="309.9" r="1.45"/><circle cx="293.3" cy="310.5" r="1.45"/><circle cx="297.2" cy="310.1" r="1.45"/><circle cx="301.2" cy="309.1" r="1.45"/><circle cx="305.2" cy="308.3" r="1.45"/><circle cx="309.2" cy="307.1" r="1.45"/><circle cx="293.3" cy="314.7" r="1.45"/><circle cx="297.2" cy="315.5" r="1.45"/><circle cx="295.2" cy="322.0" r="1.45"/></g>
<g fill="#000"><circle cx="575.6" cy="179.2" r="1.45"/><circle cx="575.6" cy="191.9" r="1.45"/><circle cx="575.6" cy="216.3" r="1.45"/><circle cx="575.6" cy="227.4" r="1.45"/><circle cx="575.6" cy="238.8" r="1.45"/><circle cx="575.6" cy="244.9" r="1.45"/><circle cx="577.6" cy="248.1" r="1.45"/><circle cx="573.6" cy="251.4" r="1.45"/><circle cx="579.6" cy="254.5" r="1.45"/><circle cx="571.6" cy="256.0" r="1.45"/><circle cx="575.6" cy="256.9" r="1.45"/><circle cx="577.6" cy="259.9" r="1.45"/><circle cx="573.6" cy="261.9" r="1.45"/><circle cx="565.7" cy="265.0" r="1.45"/><circle cx="569.6" cy="266.3" r="1.45"/><circle cx="573.6" cy="268.5" r="1.45"/><circle cx="577.6" cy="268.9" r="1.45"/><circle cx="581.6" cy="266.6" r="1.45"/><circle cx="585.5" cy="266.3" r="1.45"/><circle cx="561.7" cy="270.8" r="1.45"/><circle cx="565.7" cy="271.4" r="1.45"/><circle cx="569.6" cy="273.0" r="1.45"/><circle cx="573.6" cy="275.1" r="1.45"/><circle cx="577.6" cy="273.2" r="1.45"/><circle cx="581.6" cy="272.0" r="1.45"/><circle cx="585.5" cy="271.2" r="1.45"/><circle cx="589.5" cy="270.8" r="1.45"/><circle cx="557.7" cy="277.0" r="1.45"/><circle cx="561.7" cy="277.0" r="1.45"/><circle cx="565.7" cy="277.8" r="1.45"/><circle cx="569.6" cy="279.8" r="1.45"/><circle cx="575.6" cy="279.8" r="1.45"/><circle cx="579.6" cy="279.3" r="1.45"/><circle cx="583.6" cy="277.4" r="1.45"/><circle cx="587.5" cy="277.0" r="1.45"/><circle cx="591.5" cy="276.4" r="1.45"/><circle cx="567.7" cy="281.6" r="1.45"/><circle cx="571.6" cy="283.0" r="1.45"/><circle cx="585.5" cy="281.6" r="1.45"/><circle cx="557.7" cy="285.2" r="1.45"/><circle cx="563.7" cy="285.5" r="1.45"/><circle cx="575.6" cy="284.4" r="1.45"/><circle cx="583.6" cy="286.2" r="1.45"/><circle cx="587.5" cy="285.2" r="1.45"/><circle cx="591.5" cy="284.8" r="1.45"/><circle cx="559.7" cy="288.9" r="1.45"/><circle cx="563.7" cy="290.5" r="1.45"/><circle cx="567.7" cy="287.0" r="1.45"/><circle cx="571.6" cy="287.9" r="1.45"/><circle cx="575.6" cy="288.3" r="1.45"/><circle cx="579.6" cy="287.8" r="1.45"/><circle cx="567.7" cy="292.1" r="1.45"/><circle cx="571.6" cy="292.1" r="1.45"/><circle cx="575.6" cy="292.9" r="1.45"/><circle cx="579.6" cy="292.5" r="1.45"/><circle cx="585.5" cy="292.1" r="1.45"/><circle cx="589.5" cy="291.0" r="1.45"/><circle cx="593.3" cy="289.5" r="1.45"/><circle cx="567.7" cy="297.1" r="1.45"/><circle cx="571.6" cy="299.2" r="1.45"/><circle cx="573.6" cy="300.5" r="1.45"/><circle cx="575.6" cy="299.5" r="1.45"/><circle cx="579.6" cy="297.9" r="1.45"/><circle cx="583.6" cy="295.9" r="1.45"/><circle cx="557.7" cy="301.4" r="1.45"/><circle cx="561.7" cy="302.4" r="1.45"/><circle cx="565.7" cy="303.2" r="1.45"/><circle cx="563.7" cy="305.0" r="1.45"/><circle cx="571.6" cy="304.2" r="1.45"/><circle cx="577.6" cy="303.7" r="1.45"/><circle cx="581.6" cy="303.2" r="1.45"/><circle cx="585.5" cy="301.6" r="1.45"/><circle cx="589.5" cy="300.7" r="1.45"/><circle cx="593.3" cy="300.3" r="1.45"/><circle cx="567.7" cy="306.9" r="1.45"/><circle cx="573.6" cy="308.2" r="1.45"/><circle cx="577.6" cy="308.4" r="1.45"/><circle cx="583.6" cy="307.2" r="1.45"/><circle cx="585.5" cy="309.0" r="1.45"/><circle cx="587.5" cy="306.1" r="1.45"/><circle cx="565.7" cy="310.4" r="1.45"/><circle cx="569.6" cy="310.6" r="1.45"/><circle cx="581.6" cy="310.6" r="1.45"/><circle cx="573.6" cy="312.7" r="1.45"/><circle cx="577.6" cy="312.7" r="1.45"/><circle cx="573.6" cy="318.3" r="1.45"/><circle cx="577.6" cy="318.8" r="1.45"/><circle cx="571.6" cy="324.7" r="1.45"/><circle cx="575.6" cy="326.3" r="1.45"/><circle cx="579.6" cy="325.7" r="1.45"/></g>
<g fill="#000"><circle cx="511.2" cy="231.0" r="1.45"/><circle cx="509.1" cy="239.5" r="1.45"/><circle cx="513.1" cy="239.7" r="1.45"/><circle cx="513.1" cy="250.1" r="1.45"/><circle cx="507.1" cy="253.6" r="1.45"/><circle cx="509.1" cy="255.1" r="1.45"/><circle cx="513.1" cy="258.0" r="1.45"/><circle cx="507.1" cy="262.0" r="1.45"/><circle cx="511.1" cy="263.1" r="1.45"/><circle cx="515.1" cy="262.3" r="1.45"/><circle cx="519.0" cy="264.9" r="1.45"/><circle cx="503.3" cy="266.9" r="1.45"/><circle cx="507.3" cy="267.3" r="1.45"/><circle cx="511.1" cy="268.5" r="1.45"/><circle cx="515.1" cy="266.9" r="1.45"/><circle cx="503.3" cy="274.2" r="1.45"/><circle cx="507.3" cy="276.3" r="1.45"/><circle cx="509.3" cy="273.3" r="1.45"/><circle cx="513.1" cy="273.1" r="1.45"/><circle cx="515.1" cy="275.7" r="1.45"/><circle cx="519.0" cy="274.1" r="1.45"/><circle cx="511.1" cy="277.9" r="1.45"/><circle cx="499.3" cy="279.0" r="1.45"/><circle cx="503.3" cy="280.0" r="1.45"/><circle cx="501.3" cy="282.4" r="1.45"/><circle cx="509.3" cy="282.0" r="1.45"/><circle cx="513.1" cy="281.6" r="1.45"/><circle cx="517.0" cy="279.8" r="1.45"/><circle cx="521.0" cy="278.8" r="1.45"/><circle cx="521.0" cy="282.8" r="1.45"/><circle cx="505.3" cy="284.0" r="1.45"/><circle cx="517.0" cy="284.8" r="1.45"/><circle cx="491.4" cy="286.0" r="1.45"/><circle cx="493.3" cy="287.6" r="1.45"/><circle cx="497.3" cy="288.2" r="1.45"/><circle cx="501.3" cy="287.2" r="1.45"/><circle cx="509.3" cy="286.4" r="1.45"/><circle cx="513.1" cy="286.4" r="1.45"/><circle cx="521.0" cy="287.2" r="1.45"/><circle cx="525.0" cy="288.0" r="1.45"/><circle cx="529.0" cy="287.4" r="1.45"/><circle cx="501.3" cy="289.6" r="1.45"/><circle cx="505.3" cy="290.1" r="1.45"/><circle cx="509.3" cy="290.8" r="1.45"/><circle cx="513.1" cy="290.4" r="1.45"/><circle cx="517.0" cy="289.8" r="1.45"/><circle cx="521.0" cy="288.5" r="1.45"/><circle cx="491.0" cy="291.6" r="1.45"/><circle cx="494.7" cy="291.7" r="1.45"/><circle cx="498.5" cy="292.3" r="1.45"/><circle cx="501.9" cy="292.7" r="1.45"/><circle cx="505.8" cy="293.8" r="1.45"/><circle cx="509.1" cy="294.7" r="1.45"/><circle cx="513.1" cy="295.1" r="1.45"/><circle cx="517.0" cy="294.6" r="1.45"/><circle cx="520.2" cy="293.0" r="1.45"/><circle cx="524.0" cy="292.5" r="1.45"/><circle cx="527.8" cy="292.0" r="1.45"/><circle cx="531.4" cy="291.7" r="1.45"/><circle cx="501.3" cy="297.0" r="1.45"/><circle cx="505.3" cy="297.3" r="1.45"/><circle cx="509.1" cy="299.5" r="1.45"/><circle cx="513.1" cy="299.3" r="1.45"/><circle cx="517.0" cy="297.5" r="1.45"/><circle cx="521.0" cy="296.2" r="1.45"/><circle cx="495.3" cy="301.1" r="1.45"/><circle cx="499.3" cy="301.5" r="1.45"/><circle cx="503.3" cy="302.3" r="1.45"/><circle cx="507.3" cy="304.1" r="1.45"/><circle cx="511.1" cy="304.3" r="1.45"/><circle cx="515.1" cy="303.5" r="1.45"/><circle cx="519.0" cy="301.9" r="1.45"/><circle cx="523.0" cy="301.3" r="1.45"/><circle cx="527.0" cy="300.5" r="1.45"/><circle cx="499.3" cy="306.3" r="1.45"/><circle cx="503.3" cy="306.9" r="1.45"/><circle cx="507.1" cy="308.3" r="1.45"/><circle cx="513.1" cy="307.5" r="1.45"/><circle cx="517.0" cy="306.5" r="1.45"/><circle cx="521.0" cy="305.3" r="1.45"/><circle cx="505.3" cy="310.5" r="1.45"/><circle cx="509.3" cy="311.9" r="1.45"/><circle cx="513.1" cy="313.1" r="1.45"/><circle cx="517.0" cy="311.1" r="1.45"/><circle cx="503.3" cy="314.8" r="1.45"/><circle cx="507.3" cy="315.8" r="1.45"/><circle cx="511.1" cy="317.2" r="1.45"/><circle cx="515.1" cy="316.4" r="1.45"/><circle cx="519.0" cy="316.1" r="1.45"/><circle cx="505.3" cy="318.8" r="1.45"/><circle cx="517.0" cy="319.8" r="1.45"/><circle cx="509.3" cy="321.6" r="1.45"/><circle cx="513.1" cy="321.6" r="1.45"/><circle cx="511.1" cy="326.2" r="1.45"/></g>
<g fill="#000"><circle cx="446.7" cy="95.6" r="1.45"/><circle cx="446.6" cy="179.2" r="1.45"/><circle cx="446.6" cy="190.3" r="1.45"/><circle cx="442.6" cy="207.9" r="1.45"/><circle cx="446.6" cy="210.5" r="1.45"/><circle cx="450.6" cy="206.3" r="1.45"/><circle cx="444.6" cy="220.4" r="1.45"/><circle cx="448.6" cy="217.1" r="1.45"/><circle cx="438.7" cy="229.8" r="1.45"/><circle cx="442.6" cy="231.6" r="1.45"/><circle cx="444.6" cy="228.2" r="1.45"/><circle cx="448.6" cy="228.2" r="1.45"/><circle cx="446.6" cy="233.2" r="1.45"/><circle cx="450.6" cy="233.0" r="1.45"/><circle cx="454.6" cy="230.8" r="1.45"/><circle cx="436.7" cy="237.2" r="1.45"/><circle cx="440.6" cy="238.9" r="1.45"/><circle cx="438.7" cy="240.9" r="1.45"/><circle cx="444.6" cy="239.9" r="1.45"/><circle cx="448.6" cy="240.1" r="1.45"/><circle cx="452.6" cy="239.7" r="1.45"/><circle cx="456.5" cy="238.1" r="1.45"/><circle cx="442.6" cy="243.3" r="1.45"/><circle cx="446.6" cy="244.7" r="1.45"/><circle cx="450.6" cy="243.7" r="1.45"/><circle cx="454.6" cy="242.9" r="1.45"/><circle cx="436.7" cy="246.1" r="1.45"/><circle cx="440.6" cy="246.5" r="1.45"/><circle cx="444.6" cy="248.3" r="1.45"/><circle cx="448.6" cy="249.9" r="1.45"/><circle cx="452.6" cy="248.3" r="1.45"/><circle cx="456.5" cy="246.3" r="1.45"/><circle cx="442.6" cy="253.3" r="1.45"/><circle cx="446.6" cy="254.5" r="1.45"/><circle cx="450.6" cy="253.7" r="1.45"/><circle cx="432.7" cy="256.3" r="1.45"/><circle cx="436.7" cy="257.1" r="1.45"/><circle cx="440.6" cy="257.6" r="1.45"/><circle cx="444.6" cy="258.7" r="1.45"/><circle cx="448.6" cy="259.3" r="1.45"/><circle cx="452.6" cy="257.9" r="1.45"/><circle cx="456.5" cy="257.3" r="1.45"/><circle cx="460.5" cy="256.9" r="1.45"/><circle cx="438.7" cy="260.1" r="1.45"/><circle cx="442.6" cy="261.7" r="1.45"/><circle cx="446.6" cy="263.9" r="1.45"/><circle cx="450.6" cy="262.9" r="1.45"/><circle cx="444.9" cy="260.9" r="1.45"/><circle cx="448.8" cy="260.9" r="1.45"/><circle cx="436.7" cy="267.9" r="1.45"/><circle cx="440.6" cy="269.0" r="1.45"/><circle cx="444.6" cy="270.8" r="1.45"/><circle cx="448.6" cy="271.9" r="1.45"/><circle cx="454.6" cy="270.4" r="1.45"/><circle cx="458.5" cy="269.0" r="1.45"/><circle cx="436.7" cy="273.6" r="1.45"/><circle cx="440.6" cy="276.0" r="1.45"/><circle cx="444.6" cy="276.6" r="1.45"/><circle cx="448.6" cy="276.4" r="1.45"/><circle cx="452.6" cy="274.4" r="1.45"/><circle cx="456.5" cy="273.0" r="1.45"/><circle cx="428.7" cy="278.8" r="1.45"/><circle cx="432.7" cy="279.8" r="1.45"/><circle cx="436.7" cy="280.4" r="1.45"/><circle cx="440.6" cy="281.4" r="1.45"/><circle cx="444.6" cy="282.0" r="1.45"/><circle cx="448.6" cy="282.4" r="1.45"/><circle cx="452.6" cy="281.6" r="1.45"/><circle cx="456.5" cy="280.8" r="1.45"/><circle cx="460.5" cy="280.0" r="1.45"/><circle cx="464.3" cy="279.2" r="1.45"/><circle cx="430.7" cy="283.6" r="1.45"/><circle cx="434.7" cy="284.4" r="1.45"/><circle cx="438.7" cy="284.9" r="1.45"/><circle cx="442.6" cy="285.9" r="1.45"/><circle cx="446.6" cy="287.1" r="1.45"/><circle cx="450.6" cy="286.2" r="1.45"/><circle cx="454.6" cy="285.7" r="1.45"/><circle cx="458.5" cy="284.6" r="1.45"/><circle cx="462.5" cy="284.1" r="1.45"/><circle cx="444.6" cy="291.9" r="1.45"/><circle cx="450.6" cy="293.9" r="1.45"/><circle cx="452.6" cy="295.5" r="1.45"/><circle cx="440.6" cy="296.8" r="1.45"/><circle cx="448.6" cy="297.3" r="1.45"/><circle cx="444.6" cy="299.3" r="1.45"/><circle cx="442.6" cy="302.1" r="1.45"/><circle cx="450.6" cy="301.4" r="1.45"/><circle cx="446.6" cy="304.2" r="1.45"/><circle cx="448.6" cy="307.4" r="1.45"/><circle cx="444.6" cy="309.2" r="1.45"/><circle cx="446.6" cy="314.6" r="1.45"/><circle cx="446.6" cy="327.3" r="1.45"/></g>
<g fill="#000"><circle cx="638.3" cy="221.5" r="1.45"/><circle cx="640.2" cy="220.7" r="1.45"/><circle cx="642.2" cy="224.9" r="1.45"/><circle cx="636.3" cy="227.5" r="1.45"/><circle cx="640.2" cy="230.8" r="1.45"/><circle cx="644.2" cy="230.3" r="1.45"/><circle cx="632.3" cy="237.7" r="1.45"/><circle cx="636.3" cy="235.0" r="1.45"/><circle cx="640.2" cy="235.3" r="1.45"/><circle cx="644.2" cy="234.6" r="1.45"/><circle cx="642.2" cy="238.0" r="1.45"/><circle cx="646.2" cy="236.9" r="1.45"/><circle cx="636.3" cy="240.6" r="1.45"/><circle cx="638.3" cy="243.8" r="1.45"/><circle cx="642.2" cy="245.8" r="1.45"/><circle cx="636.3" cy="249.4" r="1.45"/><circle cx="644.2" cy="249.9" r="1.45"/><circle cx="640.2" cy="252.3" r="1.45"/><circle cx="636.3" cy="254.1" r="1.45"/><circle cx="644.2" cy="253.9" r="1.45"/><circle cx="640.2" cy="257.1" r="1.45"/><circle cx="634.3" cy="259.9" r="1.45"/><circle cx="638.3" cy="261.3" r="1.45"/><circle cx="642.2" cy="260.2" r="1.45"/><circle cx="646.2" cy="259.5" r="1.45"/><circle cx="644.2" cy="262.9" r="1.45"/><circle cx="636.3" cy="264.9" r="1.45"/><circle cx="640.2" cy="266.1" r="1.45"/><circle cx="632.3" cy="268.8" r="1.45"/><circle cx="636.3" cy="270.3" r="1.45"/><circle cx="638.3" cy="270.8" r="1.45"/><circle cx="642.2" cy="270.8" r="1.45"/><circle cx="644.2" cy="269.2" r="1.45"/><circle cx="648.2" cy="268.8" r="1.45"/><circle cx="622.3" cy="271.4" r="1.45"/><circle cx="626.3" cy="273.0" r="1.45"/><circle cx="630.3" cy="273.2" r="1.45"/><circle cx="634.3" cy="274.2" r="1.45"/><circle cx="640.2" cy="274.2" r="1.45"/><circle cx="646.2" cy="274.2" r="1.45"/><circle cx="650.2" cy="273.0" r="1.45"/><circle cx="654.2" cy="272.8" r="1.45"/><circle cx="658.1" cy="271.4" r="1.45"/><circle cx="636.3" cy="277.4" r="1.45"/><circle cx="644.2" cy="277.4" r="1.45"/><circle cx="640.2" cy="280.6" r="1.45"/><circle cx="644.2" cy="284.1" r="1.45"/><circle cx="636.3" cy="285.7" r="1.45"/><circle cx="638.3" cy="287.8" r="1.45"/><circle cx="640.2" cy="287.3" r="1.45"/><circle cx="642.2" cy="288.3" r="1.45"/><circle cx="622.3" cy="289.1" r="1.45"/><circle cx="626.3" cy="289.5" r="1.45"/><circle cx="630.3" cy="290.5" r="1.45"/><circle cx="634.3" cy="290.9" r="1.45"/><circle cx="640.2" cy="291.5" r="1.45"/><circle cx="646.2" cy="290.9" r="1.45"/><circle cx="650.2" cy="290.5" r="1.45"/><circle cx="654.2" cy="289.9" r="1.45"/><circle cx="658.1" cy="289.7" r="1.45"/><circle cx="632.3" cy="293.6" r="1.45"/><circle cx="636.3" cy="294.4" r="1.45"/><circle cx="640.2" cy="296.0" r="1.45"/><circle cx="644.2" cy="293.9" r="1.45"/><circle cx="648.2" cy="293.3" r="1.45"/><circle cx="620.0" cy="297.6" r="1.45"/><circle cx="623.9" cy="298.1" r="1.45"/><circle cx="627.9" cy="299.2" r="1.45"/><circle cx="631.1" cy="299.7" r="1.45"/><circle cx="635.1" cy="299.9" r="1.45"/><circle cx="638.3" cy="300.9" r="1.45"/><circle cx="642.2" cy="300.9" r="1.45"/><circle cx="646.2" cy="299.9" r="1.45"/><circle cx="649.4" cy="299.9" r="1.45"/><circle cx="653.0" cy="299.2" r="1.45"/><circle cx="656.8" cy="297.9" r="1.45"/><circle cx="660.4" cy="297.6" r="1.45"/><circle cx="630.3" cy="302.1" r="1.45"/><circle cx="634.3" cy="302.9" r="1.45"/><circle cx="638.3" cy="303.9" r="1.45"/><circle cx="642.2" cy="305.0" r="1.45"/><circle cx="646.2" cy="302.9" r="1.45"/><circle cx="650.2" cy="302.7" r="1.45"/><circle cx="628.3" cy="306.5" r="1.45"/><circle cx="652.2" cy="306.6" r="1.45"/><circle cx="632.3" cy="309.5" r="1.45"/><circle cx="636.3" cy="310.4" r="1.45"/><circle cx="640.2" cy="310.4" r="1.45"/><circle cx="644.2" cy="310.4" r="1.45"/><circle cx="648.2" cy="309.8" r="1.45"/><circle cx="640.2" cy="318.4" r="1.45"/><circle cx="640.2" cy="326.5" r="1.45"/></g>
<g fill="#000"><circle cx="228.9" cy="646.7" r="1.45"/><circle cx="232.8" cy="646.7" r="1.45"/><circle cx="230.8" cy="651.3" r="1.45"/><circle cx="230.8" cy="674.9" r="1.45"/><circle cx="226.9" cy="678.1" r="1.45"/><circle cx="230.8" cy="679.5" r="1.45"/><circle cx="234.8" cy="678.7" r="1.45"/><circle cx="220.9" cy="685.8" r="1.45"/><circle cx="224.9" cy="687.1" r="1.45"/><circle cx="228.9" cy="688.4" r="1.45"/><circle cx="226.9" cy="690.4" r="1.45"/><circle cx="232.8" cy="689.2" r="1.45"/><circle cx="236.8" cy="687.9" r="1.45"/><circle cx="240.8" cy="687.1" r="1.45"/><circle cx="230.8" cy="693.6" r="1.45"/><circle cx="236.8" cy="693.0" r="1.45"/><circle cx="226.9" cy="698.0" r="1.45"/><circle cx="230.8" cy="698.8" r="1.45"/><circle cx="234.8" cy="696.8" r="1.45"/><circle cx="213.0" cy="699.3" r="1.45"/><circle cx="216.9" cy="700.0" r="1.45"/><circle cx="220.9" cy="700.6" r="1.45"/><circle cx="224.9" cy="702.0" r="1.45"/><circle cx="228.9" cy="703.3" r="1.45"/><circle cx="232.8" cy="702.0" r="1.45"/><circle cx="236.8" cy="700.6" r="1.45"/><circle cx="240.8" cy="700.0" r="1.45"/><circle cx="244.8" cy="699.3" r="1.45"/><circle cx="248.7" cy="699.3" r="1.45"/><circle cx="210.6" cy="703.9" r="1.45"/><circle cx="214.5" cy="704.6" r="1.45"/><circle cx="218.1" cy="705.1" r="1.45"/><circle cx="221.9" cy="705.9" r="1.45"/><circle cx="239.8" cy="705.9" r="1.45"/><circle cx="243.8" cy="705.1" r="1.45"/><circle cx="247.3" cy="704.6" r="1.45"/><circle cx="251.0" cy="703.9" r="1.45"/><circle cx="213.0" cy="708.3" r="1.45"/><circle cx="216.9" cy="709.7" r="1.45"/><circle cx="225.3" cy="707.0" r="1.45"/><circle cx="228.9" cy="707.5" r="1.45"/><circle cx="232.8" cy="707.5" r="1.45"/><circle cx="236.4" cy="707.0" r="1.45"/><circle cx="248.7" cy="708.3" r="1.45"/><circle cx="220.9" cy="710.9" r="1.45"/><circle cx="226.9" cy="711.5" r="1.45"/><circle cx="230.8" cy="712.3" r="1.45"/><circle cx="236.8" cy="711.9" r="1.45"/><circle cx="240.8" cy="710.9" r="1.45"/><circle cx="244.8" cy="710.9" r="1.45"/><circle cx="211.0" cy="713.6" r="1.45"/><circle cx="214.9" cy="714.4" r="1.45"/><circle cx="218.9" cy="714.4" r="1.45"/><circle cx="222.9" cy="714.4" r="1.45"/><circle cx="226.9" cy="716.3" r="1.45"/><circle cx="230.8" cy="716.9" r="1.45"/><circle cx="234.8" cy="714.9" r="1.45"/><circle cx="238.8" cy="714.4" r="1.45"/><circle cx="242.8" cy="714.4" r="1.45"/><circle cx="246.7" cy="713.6" r="1.45"/><circle cx="250.7" cy="713.0" r="1.45"/><circle cx="211.0" cy="717.9" r="1.45"/><circle cx="214.9" cy="719.3" r="1.45"/><circle cx="218.9" cy="720.5" r="1.45"/><circle cx="216.9" cy="722.7" r="1.45"/><circle cx="222.9" cy="721.9" r="1.45"/><circle cx="220.9" cy="723.9" r="1.45"/><circle cx="224.9" cy="724.5" r="1.45"/><circle cx="228.9" cy="721.9" r="1.45"/><circle cx="232.8" cy="721.9" r="1.45"/><circle cx="236.8" cy="721.3" r="1.45"/><circle cx="240.8" cy="719.3" r="1.45"/><circle cx="244.8" cy="718.7" r="1.45"/><circle cx="248.7" cy="717.9" r="1.45"/><circle cx="218.9" cy="727.1" r="1.45"/><circle cx="222.9" cy="728.1" r="1.45"/><circle cx="228.9" cy="726.5" r="1.45"/><circle cx="234.8" cy="726.3" r="1.45"/><circle cx="236.8" cy="727.7" r="1.45"/><circle cx="238.8" cy="726.1" r="1.45"/><circle cx="240.8" cy="727.1" r="1.45"/><circle cx="242.8" cy="723.9" r="1.45"/><circle cx="246.7" cy="723.3" r="1.45"/><circle cx="226.9" cy="730.8" r="1.45"/><circle cx="224.9" cy="732.4" r="1.45"/><circle cx="232.8" cy="729.8" r="1.45"/><circle cx="238.8" cy="732.8" r="1.45"/><circle cx="228.9" cy="735.1" r="1.45"/><circle cx="234.8" cy="735.4" r="1.45"/><circle cx="232.8" cy="739.3" r="1.45"/><circle cx="228.9" cy="742.0" r="1.45"/></g>
<g fill="#000"><circle cx="166.6" cy="532.2" r="1.45"/><circle cx="166.6" cy="595.6" r="1.45"/><circle cx="166.6" cy="633.1" r="1.45"/><circle cx="166.6" cy="642.0" r="1.45"/><circle cx="162.7" cy="644.8" r="1.45"/><circle cx="166.6" cy="646.7" r="1.45"/><circle cx="170.6" cy="645.1" r="1.45"/><circle cx="166.6" cy="651.7" r="1.45"/><circle cx="166.6" cy="657.7" r="1.45"/><circle cx="152.7" cy="660.1" r="1.45"/><circle cx="156.7" cy="660.1" r="1.45"/><circle cx="160.7" cy="662.3" r="1.45"/><circle cx="162.7" cy="663.4" r="1.45"/><circle cx="166.6" cy="662.6" r="1.45"/><circle cx="170.6" cy="664.1" r="1.45"/><circle cx="172.6" cy="660.7" r="1.45"/><circle cx="176.4" cy="660.1" r="1.45"/><circle cx="180.4" cy="659.5" r="1.45"/><circle cx="166.6" cy="667.2" r="1.45"/><circle cx="156.7" cy="670.4" r="1.45"/><circle cx="160.7" cy="671.1" r="1.45"/><circle cx="164.6" cy="672.4" r="1.45"/><circle cx="168.6" cy="673.6" r="1.45"/><circle cx="172.6" cy="671.1" r="1.45"/><circle cx="178.6" cy="671.1" r="1.45"/><circle cx="176.4" cy="674.4" r="1.45"/><circle cx="156.7" cy="675.6" r="1.45"/><circle cx="160.7" cy="677.6" r="1.45"/><circle cx="164.6" cy="678.2" r="1.45"/><circle cx="168.6" cy="678.2" r="1.45"/><circle cx="172.6" cy="676.8" r="1.45"/><circle cx="150.7" cy="681.2" r="1.45"/><circle cx="154.7" cy="682.0" r="1.45"/><circle cx="160.7" cy="682.5" r="1.45"/><circle cx="166.6" cy="682.5" r="1.45"/><circle cx="170.6" cy="682.5" r="1.45"/><circle cx="174.6" cy="681.4" r="1.45"/><circle cx="178.6" cy="680.6" r="1.45"/><circle cx="148.7" cy="683.9" r="1.45"/><circle cx="152.7" cy="684.9" r="1.45"/><circle cx="156.7" cy="685.4" r="1.45"/><circle cx="162.7" cy="686.5" r="1.45"/><circle cx="168.6" cy="685.1" r="1.45"/><circle cx="176.6" cy="684.9" r="1.45"/><circle cx="180.6" cy="684.3" r="1.45"/><circle cx="184.1" cy="683.9" r="1.45"/><circle cx="154.7" cy="688.6" r="1.45"/><circle cx="158.7" cy="689.1" r="1.45"/><circle cx="162.7" cy="690.9" r="1.45"/><circle cx="166.6" cy="688.1" r="1.45"/><circle cx="166.6" cy="692.5" r="1.45"/><circle cx="170.6" cy="690.5" r="1.45"/><circle cx="172.6" cy="687.9" r="1.45"/><circle cx="174.6" cy="689.3" r="1.45"/><circle cx="178.6" cy="688.6" r="1.45"/><circle cx="150.7" cy="694.9" r="1.45"/><circle cx="154.7" cy="694.9" r="1.45"/><circle cx="158.7" cy="696.3" r="1.45"/><circle cx="162.7" cy="697.6" r="1.45"/><circle cx="166.6" cy="698.9" r="1.45"/><circle cx="172.6" cy="697.6" r="1.45"/><circle cx="176.4" cy="696.9" r="1.45"/><circle cx="180.4" cy="695.5" r="1.45"/><circle cx="184.4" cy="694.9" r="1.45"/><circle cx="158.7" cy="701.5" r="1.45"/><circle cx="162.7" cy="701.9" r="1.45"/><circle cx="166.6" cy="703.4" r="1.45"/><circle cx="170.6" cy="701.5" r="1.45"/><circle cx="174.6" cy="700.7" r="1.45"/><circle cx="150.7" cy="704.5" r="1.45"/><circle cx="154.7" cy="705.8" r="1.45"/><circle cx="158.7" cy="706.5" r="1.45"/><circle cx="162.7" cy="707.1" r="1.45"/><circle cx="166.6" cy="708.5" r="1.45"/><circle cx="170.6" cy="708.5" r="1.45"/><circle cx="174.6" cy="707.1" r="1.45"/><circle cx="178.6" cy="706.5" r="1.45"/><circle cx="182.5" cy="705.3" r="1.45"/><circle cx="156.7" cy="709.0" r="1.45"/><circle cx="160.7" cy="710.8" r="1.45"/><circle cx="164.6" cy="712.4" r="1.45"/><circle cx="168.6" cy="713.0" r="1.45"/><circle cx="172.6" cy="711.9" r="1.45"/><circle cx="176.6" cy="710.4" r="1.45"/><circle cx="160.7" cy="716.8" r="1.45"/><circle cx="164.6" cy="718.8" r="1.45"/><circle cx="162.7" cy="720.9" r="1.45"/><circle cx="168.6" cy="717.8" r="1.45"/><circle cx="170.6" cy="720.0" r="1.45"/><circle cx="172.6" cy="716.8" r="1.45"/><circle cx="166.6" cy="724.0" r="1.45"/><circle cx="164.6" cy="729.1" r="1.45"/><circle cx="168.6" cy="727.8" r="1.45"/></g>
<g fill="#000"><circle cx="102.2" cy="498.6" r="1.45"/><circle cx="102.2" cy="506.3" r="1.45"/><circle cx="102.2" cy="529.4" r="1.45"/><circle cx="102.2" cy="542.9" r="1.45"/><circle cx="100.3" cy="546.8" r="1.45"/><circle cx="106.2" cy="550.0" r="1.45"/><circle cx="104.2" cy="553.4" r="1.45"/><circle cx="100.3" cy="556.4" r="1.45"/><circle cx="98.3" cy="565.4" r="1.45"/><circle cx="102.2" cy="566.2" r="1.45"/><circle cx="106.2" cy="564.9" r="1.45"/><circle cx="96.3" cy="574.4" r="1.45"/><circle cx="104.2" cy="575.7" r="1.45"/><circle cx="108.2" cy="574.4" r="1.45"/><circle cx="98.3" cy="578.9" r="1.45"/><circle cx="100.3" cy="577.8" r="1.45"/><circle cx="106.2" cy="578.9" r="1.45"/><circle cx="96.3" cy="585.3" r="1.45"/><circle cx="100.3" cy="587.3" r="1.45"/><circle cx="102.2" cy="582.7" r="1.45"/><circle cx="104.2" cy="585.5" r="1.45"/><circle cx="108.2" cy="583.5" r="1.45"/><circle cx="102.2" cy="592.7" r="1.45"/><circle cx="96.3" cy="595.0" r="1.45"/><circle cx="100.3" cy="597.7" r="1.45"/><circle cx="104.2" cy="597.0" r="1.45"/><circle cx="108.2" cy="593.7" r="1.45"/><circle cx="92.3" cy="600.8" r="1.45"/><circle cx="96.3" cy="603.4" r="1.45"/><circle cx="102.2" cy="603.6" r="1.45"/><circle cx="106.2" cy="601.4" r="1.45"/><circle cx="110.2" cy="600.8" r="1.45"/><circle cx="94.3" cy="606.2" r="1.45"/><circle cx="98.3" cy="606.7" r="1.45"/><circle cx="102.2" cy="608.8" r="1.45"/><circle cx="106.2" cy="608.8" r="1.45"/><circle cx="110.2" cy="606.7" r="1.45"/><circle cx="92.3" cy="611.7" r="1.45"/><circle cx="96.3" cy="612.5" r="1.45"/><circle cx="100.3" cy="614.4" r="1.45"/><circle cx="104.2" cy="615.2" r="1.45"/><circle cx="108.2" cy="613.7" r="1.45"/><circle cx="112.2" cy="611.7" r="1.45"/><circle cx="94.3" cy="616.1" r="1.45"/><circle cx="98.3" cy="618.1" r="1.45"/><circle cx="102.2" cy="620.1" r="1.45"/><circle cx="106.2" cy="618.7" r="1.45"/><circle cx="110.2" cy="617.1" r="1.45"/><circle cx="110.2" cy="621.7" r="1.45"/><circle cx="92.3" cy="624.1" r="1.45"/><circle cx="98.3" cy="625.3" r="1.45"/><circle cx="102.2" cy="625.3" r="1.45"/><circle cx="106.2" cy="624.1" r="1.45"/><circle cx="108.2" cy="626.8" r="1.45"/><circle cx="94.3" cy="627.9" r="1.45"/><circle cx="96.3" cy="631.2" r="1.45"/><circle cx="98.3" cy="630.4" r="1.45"/><circle cx="100.3" cy="633.2" r="1.45"/><circle cx="104.2" cy="630.6" r="1.45"/><circle cx="108.2" cy="631.2" r="1.45"/><circle cx="104.2" cy="635.2" r="1.45"/><circle cx="98.3" cy="643.3" r="1.45"/><circle cx="102.2" cy="645.1" r="1.45"/><circle cx="106.2" cy="644.6" r="1.45"/><circle cx="96.3" cy="646.7" r="1.45"/><circle cx="100.3" cy="649.1" r="1.45"/><circle cx="98.3" cy="651.1" r="1.45"/><circle cx="104.2" cy="649.7" r="1.45"/><circle cx="108.2" cy="648.6" r="1.45"/><circle cx="106.2" cy="653.6" r="1.45"/><circle cx="102.2" cy="654.9" r="1.45"/><circle cx="92.3" cy="656.2" r="1.45"/><circle cx="96.3" cy="657.6" r="1.45"/><circle cx="100.3" cy="658.7" r="1.45"/><circle cx="110.2" cy="657.6" r="1.45"/><circle cx="114.2" cy="657.0" r="1.45"/><circle cx="106.2" cy="659.9" r="1.45"/><circle cx="108.2" cy="662.1" r="1.45"/><circle cx="94.3" cy="663.4" r="1.45"/><circle cx="98.3" cy="664.7" r="1.45"/><circle cx="104.2" cy="663.9" r="1.45"/><circle cx="100.3" cy="668.4" r="1.45"/><circle cx="104.2" cy="670.5" r="1.45"/><circle cx="102.2" cy="675.0" r="1.45"/><circle cx="96.3" cy="681.4" r="1.45"/><circle cx="100.3" cy="682.6" r="1.45"/><circle cx="104.2" cy="683.2" r="1.45"/><circle cx="108.2" cy="681.4" r="1.45"/><circle cx="96.3" cy="686.6" r="1.45"/><circle cx="100.3" cy="687.8" r="1.45"/><circle cx="104.2" cy="687.8" r="1.45"/><circle cx="108.2" cy="685.9" r="1.45"/></g>
<g fill="#000"><circle cx="295.2" cy="609.3" r="1.45"/><circle cx="295.2" cy="622.8" r="1.45"/><circle cx="293.3" cy="626.0" r="1.45"/><circle cx="297.2" cy="628.6" r="1.45"/><circle cx="295.2" cy="633.2" r="1.45"/><circle cx="295.2" cy="645.9" r="1.45"/><circle cx="297.2" cy="649.9" r="1.45"/><circle cx="293.3" cy="651.8" r="1.45"/><circle cx="289.3" cy="654.8" r="1.45"/><circle cx="301.2" cy="656.2" r="1.45"/><circle cx="293.3" cy="658.2" r="1.45"/><circle cx="297.2" cy="658.8" r="1.45"/><circle cx="287.3" cy="660.2" r="1.45"/><circle cx="303.2" cy="661.4" r="1.45"/><circle cx="291.3" cy="664.0" r="1.45"/><circle cx="295.2" cy="664.0" r="1.45"/><circle cx="299.2" cy="664.0" r="1.45"/><circle cx="283.3" cy="666.6" r="1.45"/><circle cx="287.3" cy="667.7" r="1.45"/><circle cx="293.3" cy="668.5" r="1.45"/><circle cx="299.2" cy="669.1" r="1.45"/><circle cx="301.2" cy="669.9" r="1.45"/><circle cx="303.2" cy="668.5" r="1.45"/><circle cx="307.2" cy="666.6" r="1.45"/><circle cx="289.3" cy="671.2" r="1.45"/><circle cx="293.3" cy="673.7" r="1.45"/><circle cx="297.2" cy="672.3" r="1.45"/><circle cx="299.2" cy="676.3" r="1.45"/><circle cx="291.3" cy="678.9" r="1.45"/><circle cx="295.2" cy="678.9" r="1.45"/><circle cx="283.3" cy="683.1" r="1.45"/><circle cx="287.3" cy="683.9" r="1.45"/><circle cx="291.3" cy="684.7" r="1.45"/><circle cx="299.2" cy="684.7" r="1.45"/><circle cx="303.2" cy="684.3" r="1.45"/><circle cx="307.2" cy="683.9" r="1.45"/><circle cx="275.4" cy="686.7" r="1.45"/><circle cx="279.3" cy="687.9" r="1.45"/><circle cx="283.3" cy="688.4" r="1.45"/><circle cx="287.3" cy="688.9" r="1.45"/><circle cx="289.7" cy="689.2" r="1.45"/><circle cx="292.9" cy="690.8" r="1.45"/><circle cx="295.2" cy="690.8" r="1.45"/><circle cx="298.0" cy="690.3" r="1.45"/><circle cx="300.8" cy="689.2" r="1.45"/><circle cx="304.0" cy="688.9" r="1.45"/><circle cx="307.2" cy="688.4" r="1.45"/><circle cx="310.3" cy="687.9" r="1.45"/><circle cx="313.9" cy="687.1" r="1.45"/><circle cx="295.2" cy="686.7" r="1.45"/><circle cx="281.3" cy="691.6" r="1.45"/><circle cx="285.3" cy="693.7" r="1.45"/><circle cx="291.3" cy="694.2" r="1.45"/><circle cx="295.2" cy="695.4" r="1.45"/><circle cx="301.2" cy="694.8" r="1.45"/><circle cx="305.2" cy="693.7" r="1.45"/><circle cx="309.2" cy="692.4" r="1.45"/><circle cx="287.3" cy="697.4" r="1.45"/><circle cx="291.3" cy="699.4" r="1.45"/><circle cx="295.2" cy="700.6" r="1.45"/><circle cx="299.2" cy="698.0" r="1.45"/><circle cx="303.2" cy="697.4" r="1.45"/><circle cx="277.3" cy="701.4" r="1.45"/><circle cx="281.3" cy="702.6" r="1.45"/><circle cx="285.3" cy="702.6" r="1.45"/><circle cx="289.3" cy="703.4" r="1.45"/><circle cx="293.3" cy="705.1" r="1.45"/><circle cx="297.2" cy="704.3" r="1.45"/><circle cx="301.2" cy="703.2" r="1.45"/><circle cx="305.2" cy="702.6" r="1.45"/><circle cx="309.2" cy="702.0" r="1.45"/><circle cx="313.1" cy="701.4" r="1.45"/><circle cx="285.3" cy="708.3" r="1.45"/><circle cx="289.3" cy="709.6" r="1.45"/><circle cx="295.2" cy="710.4" r="1.45"/><circle cx="299.2" cy="708.3" r="1.45"/><circle cx="303.2" cy="706.6" r="1.45"/><circle cx="283.3" cy="712.9" r="1.45"/><circle cx="287.3" cy="712.9" r="1.45"/><circle cx="291.3" cy="713.6" r="1.45"/><circle cx="295.2" cy="715.5" r="1.45"/><circle cx="299.2" cy="715.5" r="1.45"/><circle cx="301.2" cy="717.5" r="1.45"/><circle cx="303.2" cy="713.6" r="1.45"/><circle cx="307.2" cy="712.9" r="1.45"/><circle cx="289.3" cy="717.3" r="1.45"/><circle cx="293.3" cy="718.1" r="1.45"/><circle cx="297.2" cy="720.7" r="1.45"/><circle cx="293.3" cy="726.4" r="1.45"/><circle cx="297.2" cy="726.4" r="1.45"/></g>
<g fill="#000"><circle cx="574.8" cy="524.4" r="1.45"/><circle cx="574.8" cy="530.7" r="1.45"/><circle cx="574.8" cy="545.6" r="1.45"/><circle cx="574.8" cy="554.4" r="1.45"/><circle cx="572.9" cy="564.9" r="1.45"/><circle cx="576.8" cy="567.1" r="1.45"/><circle cx="576.8" cy="571.4" r="1.45"/><circle cx="572.9" cy="573.7" r="1.45"/><circle cx="574.8" cy="577.8" r="1.45"/><circle cx="574.8" cy="584.2" r="1.45"/><circle cx="574.8" cy="588.5" r="1.45"/><circle cx="574.8" cy="592.8" r="1.45"/><circle cx="568.9" cy="609.7" r="1.45"/><circle cx="572.9" cy="609.7" r="1.45"/><circle cx="578.8" cy="609.7" r="1.45"/><circle cx="582.8" cy="609.7" r="1.45"/><circle cx="576.8" cy="612.1" r="1.45"/><circle cx="572.9" cy="614.1" r="1.45"/><circle cx="564.9" cy="616.3" r="1.45"/><circle cx="568.9" cy="616.3" r="1.45"/><circle cx="572.9" cy="618.5" r="1.45"/><circle cx="576.8" cy="618.5" r="1.45"/><circle cx="580.8" cy="616.3" r="1.45"/><circle cx="584.8" cy="616.3" r="1.45"/><circle cx="570.9" cy="624.8" r="1.45"/><circle cx="574.8" cy="624.8" r="1.45"/><circle cx="578.8" cy="624.8" r="1.45"/><circle cx="570.9" cy="631.4" r="1.45"/><circle cx="574.8" cy="633.6" r="1.45"/><circle cx="578.8" cy="631.4" r="1.45"/><circle cx="580.8" cy="635.7" r="1.45"/><circle cx="568.9" cy="637.8" r="1.45"/><circle cx="572.9" cy="637.8" r="1.45"/><circle cx="576.8" cy="637.8" r="1.45"/><circle cx="564.9" cy="639.9" r="1.45"/><circle cx="584.8" cy="639.9" r="1.45"/><circle cx="568.9" cy="641.9" r="1.45"/><circle cx="574.8" cy="642.1" r="1.45"/><circle cx="580.8" cy="641.9" r="1.45"/><circle cx="570.9" cy="644.3" r="1.45"/><circle cx="578.8" cy="644.3" r="1.45"/><circle cx="574.8" cy="646.5" r="1.45"/><circle cx="570.9" cy="648.7" r="1.45"/><circle cx="578.8" cy="648.7" r="1.45"/><circle cx="574.8" cy="650.8" r="1.45"/><circle cx="566.9" cy="652.9" r="1.45"/><circle cx="570.9" cy="652.9" r="1.45"/><circle cx="584.8" cy="652.9" r="1.45"/><circle cx="574.8" cy="654.8" r="1.45"/><circle cx="580.8" cy="654.8" r="1.45"/><circle cx="578.8" cy="657.0" r="1.45"/><circle cx="570.9" cy="659.0" r="1.45"/><circle cx="574.8" cy="659.0" r="1.45"/><circle cx="557.0" cy="661.1" r="1.45"/><circle cx="560.9" cy="661.1" r="1.45"/><circle cx="564.9" cy="661.1" r="1.45"/><circle cx="580.8" cy="661.1" r="1.45"/><circle cx="584.8" cy="661.1" r="1.45"/><circle cx="588.8" cy="661.1" r="1.45"/><circle cx="592.7" cy="661.1" r="1.45"/><circle cx="568.9" cy="663.2" r="1.45"/><circle cx="572.9" cy="663.2" r="1.45"/><circle cx="576.8" cy="663.2" r="1.45"/><circle cx="560.9" cy="665.4" r="1.45"/><circle cx="564.9" cy="665.4" r="1.45"/><circle cx="588.8" cy="665.4" r="1.45"/><circle cx="568.9" cy="667.5" r="1.45"/><circle cx="572.9" cy="667.5" r="1.45"/><circle cx="576.8" cy="667.5" r="1.45"/><circle cx="580.8" cy="667.5" r="1.45"/><circle cx="584.8" cy="667.5" r="1.45"/><circle cx="566.9" cy="669.7" r="1.45"/><circle cx="570.9" cy="669.7" r="1.45"/><circle cx="582.8" cy="669.7" r="1.45"/><circle cx="574.8" cy="672.0" r="1.45"/><circle cx="578.8" cy="672.0" r="1.45"/><circle cx="572.9" cy="676.3" r="1.45"/><circle cx="576.8" cy="676.3" r="1.45"/><circle cx="566.9" cy="678.3" r="1.45"/><circle cx="580.8" cy="678.3" r="1.45"/><circle cx="568.9" cy="681.5" r="1.45"/><circle cx="570.9" cy="680.5" r="1.45"/><circle cx="576.8" cy="680.5" r="1.45"/><circle cx="572.9" cy="682.7" r="1.45"/><circle cx="580.8" cy="682.7" r="1.45"/><circle cx="576.8" cy="684.9" r="1.45"/><circle cx="570.9" cy="687.1" r="1.45"/><circle cx="574.8" cy="689.2" r="1.45"/><circle cx="578.8" cy="689.2" r="1.45"/><circle cx="574.8" cy="693.5" r="1.45"/><circle cx="574.8" cy="704.2" r="1.45"/></g>
<g fill="#000"><circle cx="508.6" cy="558.3" r="1.45"/><circle cx="512.6" cy="560.7" r="1.45"/><circle cx="510.6" cy="592.8" r="1.45"/><circle cx="514.6" cy="594.9" r="1.45"/><circle cx="506.6" cy="597.1" r="1.45"/><circle cx="510.6" cy="597.1" r="1.45"/><circle cx="508.6" cy="609.8" r="1.45"/><circle cx="512.6" cy="609.8" r="1.45"/><circle cx="508.6" cy="620.6" r="1.45"/><circle cx="512.6" cy="622.7" r="1.45"/><circle cx="506.6" cy="624.9" r="1.45"/><circle cx="510.6" cy="627.0" r="1.45"/><circle cx="514.6" cy="627.0" r="1.45"/><circle cx="514.6" cy="631.5" r="1.45"/><circle cx="506.6" cy="633.5" r="1.45"/><circle cx="510.6" cy="633.5" r="1.45"/><circle cx="508.6" cy="637.9" r="1.45"/><circle cx="512.6" cy="637.9" r="1.45"/><circle cx="506.6" cy="642.1" r="1.45"/><circle cx="510.6" cy="642.1" r="1.45"/><circle cx="514.6" cy="642.1" r="1.45"/><circle cx="498.7" cy="644.3" r="1.45"/><circle cx="502.7" cy="646.5" r="1.45"/><circle cx="506.6" cy="646.5" r="1.45"/><circle cx="510.6" cy="646.5" r="1.45"/><circle cx="516.6" cy="646.3" r="1.45"/><circle cx="514.6" cy="648.7" r="1.45"/><circle cx="520.5" cy="646.5" r="1.45"/><circle cx="524.5" cy="644.3" r="1.45"/><circle cx="506.6" cy="650.8" r="1.45"/><circle cx="510.6" cy="650.8" r="1.45"/><circle cx="502.7" cy="652.9" r="1.45"/><circle cx="506.6" cy="655.0" r="1.45"/><circle cx="510.6" cy="655.0" r="1.45"/><circle cx="514.6" cy="655.0" r="1.45"/><circle cx="520.5" cy="654.8" r="1.45"/><circle cx="518.6" cy="657.2" r="1.45"/><circle cx="522.5" cy="657.2" r="1.45"/><circle cx="498.7" cy="657.2" r="1.45"/><circle cx="502.7" cy="659.3" r="1.45"/><circle cx="506.6" cy="659.3" r="1.45"/><circle cx="510.6" cy="659.3" r="1.45"/><circle cx="514.6" cy="659.3" r="1.45"/><circle cx="504.6" cy="661.4" r="1.45"/><circle cx="516.6" cy="661.4" r="1.45"/><circle cx="508.6" cy="663.6" r="1.45"/><circle cx="512.6" cy="663.6" r="1.45"/><circle cx="502.7" cy="665.6" r="1.45"/><circle cx="518.6" cy="665.6" r="1.45"/><circle cx="506.6" cy="667.8" r="1.45"/><circle cx="510.6" cy="667.8" r="1.45"/><circle cx="514.6" cy="667.8" r="1.45"/><circle cx="504.6" cy="672.0" r="1.45"/><circle cx="516.6" cy="672.0" r="1.45"/><circle cx="508.6" cy="674.1" r="1.45"/><circle cx="512.6" cy="674.1" r="1.45"/><circle cx="498.7" cy="678.3" r="1.45"/><circle cx="502.7" cy="678.3" r="1.45"/><circle cx="506.6" cy="678.3" r="1.45"/><circle cx="510.6" cy="678.3" r="1.45"/><circle cx="514.6" cy="678.3" r="1.45"/><circle cx="518.6" cy="678.3" r="1.45"/><circle cx="522.5" cy="676.3" r="1.45"/><circle cx="504.6" cy="680.7" r="1.45"/><circle cx="512.6" cy="680.7" r="1.45"/><circle cx="516.6" cy="680.7" r="1.45"/><circle cx="508.6" cy="682.6" r="1.45"/><circle cx="504.6" cy="686.8" r="1.45"/><circle cx="516.6" cy="686.8" r="1.45"/><circle cx="508.6" cy="689.2" r="1.45"/><circle cx="512.6" cy="689.2" r="1.45"/><circle cx="492.7" cy="691.4" r="1.45"/><circle cx="496.7" cy="691.4" r="1.45"/><circle cx="500.7" cy="691.4" r="1.45"/><circle cx="520.5" cy="691.4" r="1.45"/><circle cx="524.5" cy="691.4" r="1.45"/><circle cx="528.5" cy="691.4" r="1.45"/><circle cx="504.6" cy="693.4" r="1.45"/><circle cx="510.6" cy="693.4" r="1.45"/><circle cx="516.6" cy="693.4" r="1.45"/><circle cx="502.7" cy="695.6" r="1.45"/><circle cx="506.6" cy="695.6" r="1.45"/><circle cx="514.6" cy="695.6" r="1.45"/><circle cx="518.6" cy="695.6" r="1.45"/><circle cx="510.6" cy="697.7" r="1.45"/><circle cx="506.6" cy="700.0" r="1.45"/><circle cx="510.6" cy="702.0" r="1.45"/><circle cx="516.6" cy="702.0" r="1.45"/><circle cx="514.6" cy="704.1" r="1.45"/><circle cx="506.6" cy="706.5" r="1.45"/><circle cx="510.6" cy="706.5" r="1.45"/><circle cx="510.6" cy="710.7" r="1.45"/></g>
<g fill="#000"><circle cx="446.4" cy="541.5" r="1.45"/><circle cx="448.4" cy="547.9" r="1.45"/><circle cx="444.5" cy="550.0" r="1.45"/><circle cx="446.4" cy="565.0" r="1.45"/><circle cx="448.4" cy="571.3" r="1.45"/><circle cx="444.5" cy="573.6" r="1.45"/><circle cx="446.4" cy="590.8" r="1.45"/><circle cx="442.5" cy="592.8" r="1.45"/><circle cx="450.4" cy="592.8" r="1.45"/><circle cx="446.4" cy="595.0" r="1.45"/><circle cx="444.5" cy="597.2" r="1.45"/><circle cx="448.4" cy="599.3" r="1.45"/><circle cx="442.5" cy="603.5" r="1.45"/><circle cx="450.4" cy="603.5" r="1.45"/><circle cx="446.4" cy="605.5" r="1.45"/><circle cx="438.5" cy="607.8" r="1.45"/><circle cx="454.4" cy="607.8" r="1.45"/><circle cx="442.5" cy="609.9" r="1.45"/><circle cx="446.4" cy="609.9" r="1.45"/><circle cx="450.4" cy="609.9" r="1.45"/><circle cx="446.4" cy="616.5" r="1.45"/><circle cx="446.4" cy="620.7" r="1.45"/><circle cx="434.5" cy="622.7" r="1.45"/><circle cx="438.5" cy="622.7" r="1.45"/><circle cx="442.5" cy="624.7" r="1.45"/><circle cx="446.4" cy="624.7" r="1.45"/><circle cx="450.4" cy="624.9" r="1.45"/><circle cx="454.4" cy="622.7" r="1.45"/><circle cx="458.4" cy="622.7" r="1.45"/><circle cx="436.5" cy="626.9" r="1.45"/><circle cx="440.5" cy="627.1" r="1.45"/><circle cx="444.5" cy="629.0" r="1.45"/><circle cx="450.4" cy="629.0" r="1.45"/><circle cx="454.4" cy="629.0" r="1.45"/><circle cx="458.4" cy="626.9" r="1.45"/><circle cx="436.5" cy="631.2" r="1.45"/><circle cx="440.5" cy="631.2" r="1.45"/><circle cx="444.5" cy="633.2" r="1.45"/><circle cx="448.4" cy="631.2" r="1.45"/><circle cx="452.4" cy="631.4" r="1.45"/><circle cx="456.4" cy="631.4" r="1.45"/><circle cx="438.5" cy="635.4" r="1.45"/><circle cx="454.4" cy="635.4" r="1.45"/><circle cx="442.5" cy="637.6" r="1.45"/><circle cx="446.4" cy="637.6" r="1.45"/><circle cx="450.4" cy="637.6" r="1.45"/><circle cx="448.4" cy="639.8" r="1.45"/><circle cx="444.5" cy="642.0" r="1.45"/><circle cx="440.5" cy="644.1" r="1.45"/><circle cx="452.4" cy="644.1" r="1.45"/><circle cx="444.5" cy="646.3" r="1.45"/><circle cx="448.4" cy="646.3" r="1.45"/><circle cx="442.5" cy="648.6" r="1.45"/><circle cx="450.4" cy="648.6" r="1.45"/><circle cx="446.4" cy="650.5" r="1.45"/><circle cx="436.5" cy="652.7" r="1.45"/><circle cx="440.5" cy="652.7" r="1.45"/><circle cx="444.5" cy="654.9" r="1.45"/><circle cx="448.4" cy="654.9" r="1.45"/><circle cx="452.4" cy="654.9" r="1.45"/><circle cx="456.4" cy="652.7" r="1.45"/><circle cx="438.5" cy="659.2" r="1.45"/><circle cx="442.5" cy="659.2" r="1.45"/><circle cx="446.4" cy="659.2" r="1.45"/><circle cx="450.4" cy="659.2" r="1.45"/><circle cx="454.4" cy="659.2" r="1.45"/><circle cx="436.5" cy="661.4" r="1.45"/><circle cx="440.5" cy="661.4" r="1.45"/><circle cx="452.4" cy="661.4" r="1.45"/><circle cx="456.4" cy="661.4" r="1.45"/><circle cx="444.5" cy="663.4" r="1.45"/><circle cx="448.4" cy="663.4" r="1.45"/><circle cx="442.5" cy="667.8" r="1.45"/><circle cx="446.4" cy="669.8" r="1.45"/><circle cx="450.4" cy="669.8" r="1.45"/><circle cx="432.5" cy="672.2" r="1.45"/><circle cx="436.5" cy="672.2" r="1.45"/><circle cx="440.5" cy="672.2" r="1.45"/><circle cx="444.5" cy="672.2" r="1.45"/><circle cx="452.4" cy="672.2" r="1.45"/><circle cx="456.4" cy="672.2" r="1.45"/><circle cx="460.4" cy="672.2" r="1.45"/><circle cx="448.4" cy="674.3" r="1.45"/><circle cx="446.4" cy="680.5" r="1.45"/><circle cx="446.4" cy="684.9" r="1.45"/><circle cx="452.4" cy="689.1" r="1.45"/><circle cx="440.5" cy="691.3" r="1.45"/><circle cx="444.5" cy="691.3" r="1.45"/><circle cx="448.4" cy="691.3" r="1.45"/><circle cx="446.4" cy="697.9" r="1.45"/><circle cx="448.3" cy="702.2" r="1.45"/><circle cx="444.5" cy="704.3" r="1.45"/></g>
<g fill="#000"><circle cx="639.1" cy="562.7" r="1.45"/><circle cx="639.1" cy="586.2" r="1.45"/><circle cx="637.0" cy="588.6" r="1.45"/><circle cx="641.0" cy="590.7" r="1.45"/><circle cx="639.1" cy="599.1" r="1.45"/><circle cx="635.1" cy="601.3" r="1.45"/><circle cx="643.1" cy="601.3" r="1.45"/><circle cx="639.1" cy="603.7" r="1.45"/><circle cx="635.1" cy="605.7" r="1.45"/><circle cx="639.1" cy="607.9" r="1.45"/><circle cx="643.1" cy="607.9" r="1.45"/><circle cx="645.0" cy="609.8" r="1.45"/><circle cx="633.0" cy="609.8" r="1.45"/><circle cx="637.0" cy="612.0" r="1.45"/><circle cx="641.0" cy="612.0" r="1.45"/><circle cx="639.1" cy="620.6" r="1.45"/><circle cx="643.1" cy="622.7" r="1.45"/><circle cx="635.1" cy="624.9" r="1.45"/><circle cx="639.1" cy="624.9" r="1.45"/><circle cx="641.0" cy="629.1" r="1.45"/><circle cx="637.0" cy="631.3" r="1.45"/><circle cx="633.0" cy="633.5" r="1.45"/><circle cx="637.0" cy="635.6" r="1.45"/><circle cx="641.0" cy="635.6" r="1.45"/><circle cx="645.0" cy="635.6" r="1.45"/><circle cx="631.1" cy="637.7" r="1.45"/><circle cx="648.9" cy="637.7" r="1.45"/><circle cx="635.1" cy="639.7" r="1.45"/><circle cx="639.1" cy="639.7" r="1.45"/><circle cx="645.0" cy="639.7" r="1.45"/><circle cx="631.1" cy="641.9" r="1.45"/><circle cx="643.1" cy="641.9" r="1.45"/><circle cx="647.0" cy="641.9" r="1.45"/><circle cx="635.1" cy="644.1" r="1.45"/><circle cx="639.1" cy="644.1" r="1.45"/><circle cx="631.1" cy="646.3" r="1.45"/><circle cx="635.1" cy="648.5" r="1.45"/><circle cx="639.1" cy="648.5" r="1.45"/><circle cx="643.1" cy="648.5" r="1.45"/><circle cx="647.0" cy="648.5" r="1.45"/><circle cx="637.0" cy="650.6" r="1.45"/><circle cx="641.0" cy="652.8" r="1.45"/><circle cx="648.9" cy="654.8" r="1.45"/><circle cx="629.1" cy="657.0" r="1.45"/><circle cx="633.0" cy="657.0" r="1.45"/><circle cx="637.0" cy="657.0" r="1.45"/><circle cx="641.0" cy="657.0" r="1.45"/><circle cx="645.0" cy="657.0" r="1.45"/><circle cx="625.1" cy="661.4" r="1.45"/><circle cx="629.1" cy="661.4" r="1.45"/><circle cx="648.9" cy="661.4" r="1.45"/><circle cx="652.9" cy="661.4" r="1.45"/><circle cx="633.0" cy="663.6" r="1.45"/><circle cx="637.0" cy="663.6" r="1.45"/><circle cx="641.0" cy="663.6" r="1.45"/><circle cx="645.0" cy="663.6" r="1.45"/><circle cx="629.1" cy="665.7" r="1.45"/><circle cx="648.9" cy="665.7" r="1.45"/><circle cx="633.0" cy="667.8" r="1.45"/><circle cx="637.0" cy="667.8" r="1.45"/><circle cx="641.0" cy="667.8" r="1.45"/><circle cx="645.0" cy="667.8" r="1.45"/><circle cx="631.1" cy="669.9" r="1.45"/><circle cx="635.1" cy="669.9" r="1.45"/><circle cx="643.1" cy="669.9" r="1.45"/><circle cx="647.0" cy="669.9" r="1.45"/><circle cx="639.1" cy="672.1" r="1.45"/><circle cx="635.1" cy="674.3" r="1.45"/><circle cx="643.1" cy="674.3" r="1.45"/><circle cx="639.1" cy="676.3" r="1.45"/><circle cx="633.0" cy="678.4" r="1.45"/><circle cx="637.0" cy="678.4" r="1.45"/><circle cx="645.0" cy="678.4" r="1.45"/><circle cx="641.0" cy="680.7" r="1.45"/><circle cx="631.1" cy="682.6" r="1.45"/><circle cx="647.0" cy="682.6" r="1.45"/><circle cx="635.1" cy="684.8" r="1.45"/><circle cx="639.1" cy="684.8" r="1.45"/><circle cx="643.1" cy="684.8" r="1.45"/><circle cx="633.0" cy="686.9" r="1.45"/><circle cx="645.0" cy="686.9" r="1.45"/><circle cx="637.0" cy="689.0" r="1.45"/><circle cx="641.0" cy="689.0" r="1.45"/><circle cx="635.1" cy="691.1" r="1.45"/><circle cx="639.1" cy="693.4" r="1.45"/><circle cx="643.1" cy="693.4" r="1.45"/><circle cx="631.1" cy="697.7" r="1.45"/><circle cx="635.1" cy="697.7" r="1.45"/><circle cx="643.1" cy="697.7" r="1.45"/><circle cx="647.0" cy="697.7" r="1.45"/><circle cx="639.1" cy="699.7" r="1.45"/><circle cx="639.2" cy="721.4" r="1.45"/></g>
<path d="M184.5,846.3 L184.5,1107.8 L531.1,1107.8" stroke="#000" stroke-width="1.6" fill="none" stroke-linecap="square"/>
<line x1="181.70" y1="1107.80" x2="184.50" y2="1107.80" stroke="#000" stroke-width="1.6"/>
<text x="179.90" y="1111.00" font-size="9" text-anchor="end" font-weight="bold" >0</text>
<line x1="181.70" y1="1055.50" x2="184.50" y2="1055.50" stroke="#000" stroke-width="1.6"/>
<text x="179.90" y="1058.70" font-size="9" text-anchor="end" font-weight="bold" >20</text>
<line x1="181.70" y1="1003.20" x2="184.50" y2="1003.20" stroke="#000" stroke-width="1.6"/>
<text x="179.90" y="1006.40" font-size="9" text-anchor="end" font-weight="bold" >40</text>
<line x1="181.70" y1="950.90" x2="184.50" y2="950.90" stroke="#000" stroke-width="1.6"/>
<text x="179.90" y="954.10" font-size="9" text-anchor="end" font-weight="bold" >60</text>
<line x1="181.70" y1="898.60" x2="184.50" y2="898.60" stroke="#000" stroke-width="1.6"/>
<text x="179.90" y="901.80" font-size="9" text-anchor="end" font-weight="bold" >80</text>
<line x1="181.70" y1="846.30" x2="184.50" y2="846.30" stroke="#000" stroke-width="1.6"/>
<text x="179.90" y="849.50" font-size="9" text-anchor="end" font-weight="bold" >100</text>
<line x1="212.90" y1="1107.80" x2="212.90" y2="1111.00" stroke="#000" stroke-width="1.3"/>
<text x="212.90" y="1127.70" font-size="12.2" text-anchor="middle" font-weight="bold" >Onset</text>
<line x1="309.30" y1="1107.80" x2="309.30" y2="1111.00" stroke="#000" stroke-width="1.3"/>
<text x="309.30" y="1127.70" font-size="12.2" text-anchor="middle" font-weight="bold" >CRT2wks</text>
<line x1="405.30" y1="1107.80" x2="405.30" y2="1111.00" stroke="#000" stroke-width="1.3"/>
<text x="405.30" y="1127.70" font-size="12.2" text-anchor="middle" font-weight="bold" >CRT1mo</text>
<line x1="501.60" y1="1107.80" x2="501.60" y2="1111.00" stroke="#000" stroke-width="1.3"/>
<text x="501.60" y="1127.70" font-size="12.2" text-anchor="middle" font-weight="bold" >postCRT</text>
<text transform="translate(157.4,975.9) rotate(-90)" font-size="12.5" text-anchor="middle" font-weight="bold">percentage of total leukocytes (%)</text>
<path d="M209.5,927.8 L216.3,927.8 M212.9,927.8 L212.9,979.6 M209.5,979.6 L216.3,979.6" stroke="#ff0000" stroke-width="1.2" fill="none" />
<path d="M305.90000000000003,920.4 L312.7,920.4 M309.3,920.4 L309.3,965.1 M305.90000000000003,965.1 L312.7,965.1" stroke="#ff0000" stroke-width="1.2" fill="none" />
<path d="M401.90000000000003,910.4 L408.7,910.4 M405.3,910.4 L405.3,952.7 M401.90000000000003,952.7 L408.7,952.7" stroke="#ff0000" stroke-width="1.2" fill="none" />
<path d="M498.20000000000005,914 L505.0,914 M501.6,914 L501.6,959.3 M498.20000000000005,959.3 L505.0,959.3" stroke="#ff0000" stroke-width="1.2" fill="none" />
<path d="M212.9,953.8 L309.3,942.9 L405.3,931.3 L501.6,936.7" stroke="#ff0000" stroke-width="2.0" fill="none" />
<circle cx="212.9" cy="953.8" r="3.8" fill="#ff0000"/>
<circle cx="309.3" cy="942.9" r="3.8" fill="#ff0000"/>
<circle cx="405.3" cy="931.3" r="3.8" fill="#ff0000"/>
<circle cx="501.6" cy="936.7" r="3.8" fill="#ff0000"/>
<path d="M209.5,1009.6 L216.3,1009.6 M212.9,1009.6 L212.9,1048.4 M209.5,1048.4 L216.3,1048.4" stroke="#0000cc" stroke-width="1.2" fill="none" />
<path d="M305.90000000000003,1025.1 L312.7,1025.1 M309.3,1025.1 L309.3,1066.2 M305.90000000000003,1066.2 L312.7,1066.2" stroke="#0000cc" stroke-width="1.2" fill="none" />
<path d="M401.90000000000003,1048.4 L408.7,1048.4 M405.3,1048.4 L405.3,1083.3 M401.90000000000003,1083.3 L408.7,1083.3" stroke="#0000cc" stroke-width="1.2" fill="none" />
<path d="M498.20000000000005,1036 L505.0,1036 M501.6,1036 L501.6,1071.1 M498.20000000000005,1071.1 L505.0,1071.1" stroke="#0000cc" stroke-width="1.2" fill="none" />
<path d="M212.9,1028.9 L309.3,1046 L405.3,1065.6 L501.6,1053.8" stroke="#0000cc" stroke-width="2.0" fill="none" />
<rect x="209.3" y="1025.3000000000002" width="7.2" height="7.2" fill="#0000cc"/>
<rect x="305.7" y="1042.4" width="7.2" height="7.2" fill="#0000cc"/>
<rect x="401.7" y="1062.0" width="7.2" height="7.2" fill="#0000cc"/>
<rect x="498.0" y="1050.2" width="7.2" height="7.2" fill="#0000cc"/>
<path d="M209.5,1082.7 L216.3,1082.7 M212.9,1082.7 L212.9,1092.2 M209.5,1092.2 L216.3,1092.2" stroke="#008000" stroke-width="1.2" fill="none" />
<path d="M305.90000000000003,1074.9 L312.7,1074.9 M309.3,1074.9 L309.3,1090.4 M305.90000000000003,1090.4 L312.7,1090.4" stroke="#008000" stroke-width="1.2" fill="none" />
<path d="M401.90000000000003,1069.3 L408.7,1069.3 M405.3,1069.3 L405.3,1084.4 M401.90000000000003,1084.4 L408.7,1084.4" stroke="#008000" stroke-width="1.2" fill="none" />
<path d="M498.20000000000005,1077.1 L505.0,1077.1 M501.6,1077.1 L501.6,1090 M498.20000000000005,1090 L505.0,1090" stroke="#008000" stroke-width="1.2" fill="none" />
<path d="M212.9,1087.3 L309.3,1083.3 L405.3,1077.8 L501.6,1084" stroke="#008000" stroke-width="2.0" fill="none" />
<path d="M212.9,1083.0 L217.1,1090.6 L208.70000000000002,1090.6 Z" fill="#008000"/>
<path d="M309.3,1079.0 L313.5,1086.6 L305.1,1086.6 Z" fill="#008000"/>
<path d="M405.3,1073.5 L409.5,1081.1 L401.1,1081.1 Z" fill="#008000"/>
<path d="M501.6,1079.7 L505.8,1087.3 L497.40000000000003,1087.3 Z" fill="#008000"/>
<line x1="414.00" y1="853.30" x2="425.30" y2="853.30" stroke="#ff0000" stroke-width="1.8"/>
<circle cx="419.6" cy="853.3" r="3.8" fill="#ff0000"/>
<text x="431.60" y="857.80" font-size="12.2" text-anchor="start" font-weight="bold" >Neutrophil</text>
<line x1="414.00" y1="870.50" x2="425.30" y2="870.50" stroke="#0000cc" stroke-width="1.8"/>
<rect x="416.0" y="866.9" width="7.2" height="7.2" fill="#0000cc"/>
<text x="431.60" y="875.20" font-size="12.2" text-anchor="start" font-weight="bold" >Lymphocyte</text>
<line x1="414.00" y1="888.90" x2="425.30" y2="888.90" stroke="#008000" stroke-width="1.8"/>
<path d="M419.6,884.6 L423.8,892.1999999999999 L415.40000000000003,892.1999999999999 Z" fill="#008000"/>
<text x="431.60" y="893.80" font-size="12.2" text-anchor="start" font-weight="bold" >Monocyte</text>
</svg></body></html>
